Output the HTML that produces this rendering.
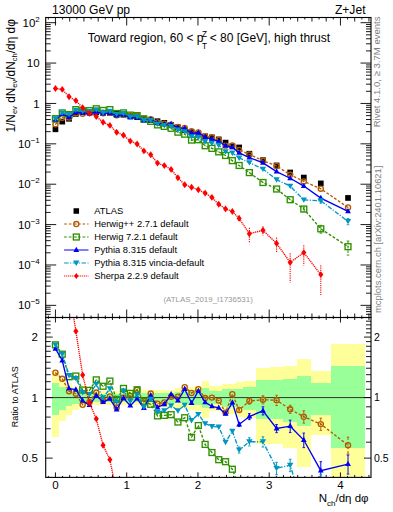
<!DOCTYPE html>
<html><head><meta charset="utf-8"><style>html,body{margin:0;padding:0;background:#fff;}svg{display:block;}</style></head>
<body>
<svg width="393" height="512" viewBox="0 0 393 512">
<rect width="393" height="512" fill="#fff"/>
<g shape-rendering="crispEdges">
<rect x="52.05" y="370.57" width="6.80" height="66.40" fill="#ffff99"/>
<rect x="58.85" y="379.46" width="6.80" height="41.07" fill="#ffff99"/>
<rect x="65.66" y="383.08" width="6.80" height="31.95" fill="#ffff99"/>
<rect x="72.46" y="387.09" width="6.80" height="22.47" fill="#ffff99"/>
<rect x="79.26" y="390.08" width="6.80" height="15.76" fill="#ffff99"/>
<rect x="86.07" y="390.88" width="6.80" height="14.00" fill="#ffff99"/>
<rect x="92.87" y="390.88" width="6.80" height="14.00" fill="#ffff99"/>
<rect x="99.68" y="390.88" width="6.80" height="14.00" fill="#ffff99"/>
<rect x="106.48" y="390.88" width="6.80" height="14.00" fill="#ffff99"/>
<rect x="113.28" y="390.88" width="6.80" height="14.00" fill="#ffff99"/>
<rect x="120.09" y="390.88" width="6.80" height="14.00" fill="#ffff99"/>
<rect x="126.89" y="390.88" width="6.80" height="14.00" fill="#ffff99"/>
<rect x="133.69" y="390.88" width="6.80" height="14.00" fill="#ffff99"/>
<rect x="140.50" y="390.08" width="6.80" height="15.76" fill="#ffff99"/>
<rect x="147.30" y="390.08" width="6.80" height="15.76" fill="#ffff99"/>
<rect x="154.11" y="390.08" width="6.80" height="15.76" fill="#ffff99"/>
<rect x="160.91" y="389.52" width="6.80" height="16.99" fill="#ffff99"/>
<rect x="167.71" y="389.52" width="6.80" height="16.99" fill="#ffff99"/>
<rect x="174.52" y="388.10" width="6.80" height="20.17" fill="#ffff99"/>
<rect x="181.32" y="388.10" width="6.80" height="20.17" fill="#ffff99"/>
<rect x="188.13" y="386.93" width="6.80" height="22.83" fill="#ffff99"/>
<rect x="194.93" y="386.16" width="6.80" height="24.60" fill="#ffff99"/>
<rect x="201.73" y="380.96" width="6.80" height="37.22" fill="#ffff99"/>
<rect x="208.54" y="386.16" width="6.80" height="24.60" fill="#ffff99"/>
<rect x="215.34" y="386.16" width="6.80" height="24.60" fill="#ffff99"/>
<rect x="222.14" y="383.89" width="6.80" height="29.97" fill="#ffff99"/>
<rect x="228.95" y="383.89" width="6.80" height="29.97" fill="#ffff99"/>
<rect x="235.75" y="381.68" width="6.80" height="35.39" fill="#ffff99"/>
<rect x="242.56" y="380.96" width="13.61" height="37.22" fill="#ffff99"/>
<rect x="256.16" y="367.61" width="13.61" height="76.05" fill="#ffff99"/>
<rect x="269.77" y="367.30" width="13.61" height="77.10" fill="#ffff99"/>
<rect x="283.38" y="365.77" width="13.61" height="82.45" fill="#ffff99"/>
<rect x="296.99" y="359.34" width="13.61" height="107.96" fill="#ffff99"/>
<rect x="310.60" y="371.40" width="20.41" height="63.80" fill="#ffff99"/>
<rect x="331.01" y="343.90" width="34.02" height="133.50" fill="#ffff99"/>
<rect x="52.05" y="383.00" width="6.80" height="32.13" fill="#99ff99"/>
<rect x="58.85" y="387.09" width="6.80" height="22.47" fill="#99ff99"/>
<rect x="65.66" y="389.92" width="6.80" height="16.11" fill="#99ff99"/>
<rect x="72.46" y="391.61" width="6.80" height="12.42" fill="#99ff99"/>
<rect x="79.26" y="392.93" width="6.80" height="9.61" fill="#99ff99"/>
<rect x="86.07" y="393.76" width="6.80" height="7.86" fill="#99ff99"/>
<rect x="92.87" y="393.76" width="6.80" height="7.86" fill="#99ff99"/>
<rect x="99.68" y="393.76" width="6.80" height="7.86" fill="#99ff99"/>
<rect x="106.48" y="393.76" width="6.80" height="7.86" fill="#99ff99"/>
<rect x="113.28" y="393.76" width="6.80" height="7.86" fill="#99ff99"/>
<rect x="120.09" y="393.76" width="6.80" height="7.86" fill="#99ff99"/>
<rect x="126.89" y="393.76" width="6.80" height="7.86" fill="#99ff99"/>
<rect x="133.69" y="393.76" width="6.80" height="7.86" fill="#99ff99"/>
<rect x="140.50" y="393.34" width="6.80" height="8.74" fill="#99ff99"/>
<rect x="147.30" y="393.34" width="6.80" height="8.74" fill="#99ff99"/>
<rect x="154.11" y="393.34" width="6.80" height="8.74" fill="#99ff99"/>
<rect x="160.91" y="392.76" width="6.80" height="9.96" fill="#99ff99"/>
<rect x="167.71" y="392.76" width="6.80" height="9.96" fill="#99ff99"/>
<rect x="174.52" y="392.10" width="6.80" height="11.36" fill="#99ff99"/>
<rect x="181.32" y="392.10" width="6.80" height="11.36" fill="#99ff99"/>
<rect x="188.13" y="390.88" width="6.80" height="14.00" fill="#99ff99"/>
<rect x="194.93" y="390.88" width="6.80" height="14.00" fill="#99ff99"/>
<rect x="201.73" y="388.10" width="6.80" height="20.17" fill="#99ff99"/>
<rect x="208.54" y="391.29" width="6.80" height="13.12" fill="#99ff99"/>
<rect x="215.34" y="391.29" width="6.80" height="13.12" fill="#99ff99"/>
<rect x="222.14" y="389.28" width="6.80" height="17.52" fill="#99ff99"/>
<rect x="228.95" y="389.28" width="6.80" height="17.52" fill="#99ff99"/>
<rect x="235.75" y="389.28" width="6.80" height="17.52" fill="#99ff99"/>
<rect x="242.56" y="386.93" width="13.61" height="22.83" fill="#99ff99"/>
<rect x="256.16" y="380.24" width="13.61" height="39.05" fill="#99ff99"/>
<rect x="269.77" y="380.24" width="13.61" height="39.05" fill="#99ff99"/>
<rect x="283.38" y="378.82" width="13.61" height="42.73" fill="#99ff99"/>
<rect x="296.99" y="376.05" width="13.61" height="50.23" fill="#99ff99"/>
<rect x="310.60" y="383.15" width="20.41" height="31.77" fill="#99ff99"/>
<rect x="331.01" y="365.77" width="34.02" height="82.45" fill="#99ff99"/>
</g>
<line x1="45.7" y1="397.6" x2="371.0" y2="397.6" stroke="#333" stroke-width="1"/>
<defs><clipPath id="ct"><rect x="45.7" y="17.5" width="325.3" height="300.0"/></clipPath><clipPath id="cr"><rect x="45.7" y="317.5" width="325.3" height="159.89999999999998"/></clipPath></defs>
<g clip-path="url(#cr)">
<polyline points="55.45,372.71 62.25,378.82 69.06,391.21 75.86,393.67 82.67,404.78 89.47,401.99 96.27,392.51 103.08,400.44 109.88,396.39 116.68,407.58 123.49,397.60 130.29,395.87 137.10,389.76 143.90,402.45 150.70,393.51 157.51,403.65 164.31,402.45 171.12,396.73 177.92,396.73 184.72,387.16 191.53,392.93 198.33,389.12 205.14,398.04 211.94,397.60 218.74,400.62 225.55,412.61 232.35,394.18 239.15,409.96 249.36,400.98 262.97,399.72 276.58,400.26 290.18,409.26 303.79,416.75 320.80,424.12 348.02,445.15" fill="none" stroke="#b45a00" stroke-width="1.35" stroke-dasharray="2.8,1.8"/>

<circle cx="55.45" cy="372.71" r="2.55" fill="none" stroke="#b45a00" stroke-width="1.35"/><circle cx="55.45" cy="372.71" r="0.5" fill="#b45a00"/>

<circle cx="62.25" cy="378.82" r="2.55" fill="none" stroke="#b45a00" stroke-width="1.35"/><circle cx="62.25" cy="378.82" r="0.5" fill="#b45a00"/>

<circle cx="69.06" cy="391.21" r="2.55" fill="none" stroke="#b45a00" stroke-width="1.35"/><circle cx="69.06" cy="391.21" r="0.5" fill="#b45a00"/>

<circle cx="75.86" cy="393.67" r="2.55" fill="none" stroke="#b45a00" stroke-width="1.35"/><circle cx="75.86" cy="393.67" r="0.5" fill="#b45a00"/>

<circle cx="82.67" cy="404.78" r="2.55" fill="none" stroke="#b45a00" stroke-width="1.35"/><circle cx="82.67" cy="404.78" r="0.5" fill="#b45a00"/>

<circle cx="89.47" cy="401.99" r="2.55" fill="none" stroke="#b45a00" stroke-width="1.35"/><circle cx="89.47" cy="401.99" r="0.5" fill="#b45a00"/>

<circle cx="96.27" cy="392.51" r="2.55" fill="none" stroke="#b45a00" stroke-width="1.35"/><circle cx="96.27" cy="392.51" r="0.5" fill="#b45a00"/>

<circle cx="103.08" cy="400.44" r="2.55" fill="none" stroke="#b45a00" stroke-width="1.35"/><circle cx="103.08" cy="400.44" r="0.5" fill="#b45a00"/>

<circle cx="109.88" cy="396.39" r="2.55" fill="none" stroke="#b45a00" stroke-width="1.35"/><circle cx="109.88" cy="396.39" r="0.5" fill="#b45a00"/>

<circle cx="116.68" cy="407.58" r="2.55" fill="none" stroke="#b45a00" stroke-width="1.35"/><circle cx="116.68" cy="407.58" r="0.5" fill="#b45a00"/>

<circle cx="123.49" cy="397.60" r="2.55" fill="none" stroke="#b45a00" stroke-width="1.35"/><circle cx="123.49" cy="397.60" r="0.5" fill="#b45a00"/>

<circle cx="130.29" cy="395.87" r="2.55" fill="none" stroke="#b45a00" stroke-width="1.35"/><circle cx="130.29" cy="395.87" r="0.5" fill="#b45a00"/>

<circle cx="137.10" cy="389.76" r="2.55" fill="none" stroke="#b45a00" stroke-width="1.35"/><circle cx="137.10" cy="389.76" r="0.5" fill="#b45a00"/>

<circle cx="143.90" cy="402.45" r="2.55" fill="none" stroke="#b45a00" stroke-width="1.35"/><circle cx="143.90" cy="402.45" r="0.5" fill="#b45a00"/>

<circle cx="150.70" cy="393.51" r="2.55" fill="none" stroke="#b45a00" stroke-width="1.35"/><circle cx="150.70" cy="393.51" r="0.5" fill="#b45a00"/>

<circle cx="157.51" cy="403.65" r="2.55" fill="none" stroke="#b45a00" stroke-width="1.35"/><circle cx="157.51" cy="403.65" r="0.5" fill="#b45a00"/>

<circle cx="164.31" cy="402.45" r="2.55" fill="none" stroke="#b45a00" stroke-width="1.35"/><circle cx="164.31" cy="402.45" r="0.5" fill="#b45a00"/>

<circle cx="171.12" cy="396.73" r="2.55" fill="none" stroke="#b45a00" stroke-width="1.35"/><circle cx="171.12" cy="396.73" r="0.5" fill="#b45a00"/>

<circle cx="177.92" cy="396.73" r="2.55" fill="none" stroke="#b45a00" stroke-width="1.35"/><circle cx="177.92" cy="396.73" r="0.5" fill="#b45a00"/>

<circle cx="184.72" cy="387.16" r="2.55" fill="none" stroke="#b45a00" stroke-width="1.35"/><circle cx="184.72" cy="387.16" r="0.5" fill="#b45a00"/>

<circle cx="191.53" cy="392.93" r="2.55" fill="none" stroke="#b45a00" stroke-width="1.35"/><circle cx="191.53" cy="392.93" r="0.5" fill="#b45a00"/>

<circle cx="198.33" cy="389.12" r="2.55" fill="none" stroke="#b45a00" stroke-width="1.35"/><circle cx="198.33" cy="389.12" r="0.5" fill="#b45a00"/>

<circle cx="205.14" cy="398.04" r="2.55" fill="none" stroke="#b45a00" stroke-width="1.35"/><circle cx="205.14" cy="398.04" r="0.5" fill="#b45a00"/>

<circle cx="211.94" cy="397.60" r="2.55" fill="none" stroke="#b45a00" stroke-width="1.35"/><circle cx="211.94" cy="397.60" r="0.5" fill="#b45a00"/>

<circle cx="218.74" cy="400.62" r="2.55" fill="none" stroke="#b45a00" stroke-width="1.35"/><circle cx="218.74" cy="400.62" r="0.5" fill="#b45a00"/>

<circle cx="225.55" cy="412.61" r="2.55" fill="none" stroke="#b45a00" stroke-width="1.35"/><circle cx="225.55" cy="412.61" r="0.5" fill="#b45a00"/>

<circle cx="232.35" cy="394.18" r="2.55" fill="none" stroke="#b45a00" stroke-width="1.35"/><circle cx="232.35" cy="394.18" r="0.5" fill="#b45a00"/>
<line x1="239.15" y1="407.96" x2="239.15" y2="412.00" stroke="#b45a00" stroke-width="1" stroke-dasharray="2.8,1.8"/><line x1="237.85" y1="407.96" x2="240.45" y2="407.96" stroke="#b45a00" stroke-width="0.9"/><line x1="237.85" y1="412.00" x2="240.45" y2="412.00" stroke="#b45a00" stroke-width="0.9"/>
<circle cx="239.15" cy="409.96" r="2.55" fill="none" stroke="#b45a00" stroke-width="1.35"/><circle cx="239.15" cy="409.96" r="0.5" fill="#b45a00"/>
<line x1="249.36" y1="397.98" x2="249.36" y2="404.09" stroke="#b45a00" stroke-width="1" stroke-dasharray="2.8,1.8"/><line x1="248.06" y1="397.98" x2="250.66" y2="397.98" stroke="#b45a00" stroke-width="0.9"/><line x1="248.06" y1="404.09" x2="250.66" y2="404.09" stroke="#b45a00" stroke-width="0.9"/>
<circle cx="249.36" cy="400.98" r="2.55" fill="none" stroke="#b45a00" stroke-width="1.35"/><circle cx="249.36" cy="400.98" r="0.5" fill="#b45a00"/>
<line x1="262.97" y1="395.72" x2="262.97" y2="403.91" stroke="#b45a00" stroke-width="1" stroke-dasharray="2.8,1.8"/><line x1="261.67" y1="395.72" x2="264.27" y2="395.72" stroke="#b45a00" stroke-width="0.9"/><line x1="261.67" y1="403.91" x2="264.27" y2="403.91" stroke="#b45a00" stroke-width="0.9"/>
<circle cx="262.97" cy="399.72" r="2.55" fill="none" stroke="#b45a00" stroke-width="1.35"/><circle cx="262.97" cy="399.72" r="0.5" fill="#b45a00"/>
<line x1="276.58" y1="395.26" x2="276.58" y2="405.56" stroke="#b45a00" stroke-width="1" stroke-dasharray="2.8,1.8"/><line x1="275.28" y1="395.26" x2="277.88" y2="395.26" stroke="#b45a00" stroke-width="0.9"/><line x1="275.28" y1="405.56" x2="277.88" y2="405.56" stroke="#b45a00" stroke-width="0.9"/>
<circle cx="276.58" cy="400.26" r="2.55" fill="none" stroke="#b45a00" stroke-width="1.35"/><circle cx="276.58" cy="400.26" r="0.5" fill="#b45a00"/>
<line x1="290.18" y1="405.26" x2="290.18" y2="413.45" stroke="#b45a00" stroke-width="1" stroke-dasharray="2.8,1.8"/><line x1="288.88" y1="405.26" x2="291.48" y2="405.26" stroke="#b45a00" stroke-width="0.9"/><line x1="288.88" y1="413.45" x2="291.48" y2="413.45" stroke="#b45a00" stroke-width="0.9"/>
<circle cx="290.18" cy="409.26" r="2.55" fill="none" stroke="#b45a00" stroke-width="1.35"/><circle cx="290.18" cy="409.26" r="0.5" fill="#b45a00"/>
<line x1="303.79" y1="410.75" x2="303.79" y2="423.20" stroke="#b45a00" stroke-width="1" stroke-dasharray="2.8,1.8"/><line x1="302.49" y1="410.75" x2="305.09" y2="410.75" stroke="#b45a00" stroke-width="0.9"/><line x1="302.49" y1="423.20" x2="305.09" y2="423.20" stroke="#b45a00" stroke-width="0.9"/>
<circle cx="303.79" cy="416.75" r="2.55" fill="none" stroke="#b45a00" stroke-width="1.35"/><circle cx="303.79" cy="416.75" r="0.5" fill="#b45a00"/>
<line x1="320.80" y1="418.12" x2="320.80" y2="430.56" stroke="#b45a00" stroke-width="1" stroke-dasharray="2.8,1.8"/><line x1="319.50" y1="418.12" x2="322.10" y2="418.12" stroke="#b45a00" stroke-width="0.9"/><line x1="319.50" y1="430.56" x2="322.10" y2="430.56" stroke="#b45a00" stroke-width="0.9"/>
<circle cx="320.80" cy="424.12" r="2.55" fill="none" stroke="#b45a00" stroke-width="1.35"/><circle cx="320.80" cy="424.12" r="0.5" fill="#b45a00"/>
<line x1="348.02" y1="437.15" x2="348.02" y2="453.96" stroke="#b45a00" stroke-width="1" stroke-dasharray="2.8,1.8"/><line x1="346.72" y1="437.15" x2="349.32" y2="437.15" stroke="#b45a00" stroke-width="0.9"/><line x1="346.72" y1="453.96" x2="349.32" y2="453.96" stroke="#b45a00" stroke-width="0.9"/>
<circle cx="348.02" cy="445.15" r="2.55" fill="none" stroke="#b45a00" stroke-width="1.35"/><circle cx="348.02" cy="445.15" r="0.5" fill="#b45a00"/>
<polyline points="55.45,344.85 62.25,354.20 69.06,376.74 75.86,376.05 82.67,390.08 89.47,390.32 96.27,379.88 103.08,386.24 109.88,381.10 116.68,399.36 123.49,388.41 130.29,393.34 137.10,389.76 143.90,401.16 150.70,404.31 157.51,415.89 164.31,415.35 171.12,414.71 177.92,422.02 184.72,417.74 191.53,437.24 198.33,425.55 205.14,444.40 211.94,452.53 218.74,459.69 225.55,461.67 232.35,469.27 239.15,487.27 249.36,491.52 262.97,508.72 276.58,514.86 290.18,533.01 303.79,554.36 320.80,623.71 348.02,640.33" fill="none" stroke="#2f9000" stroke-width="1.35" stroke-dasharray="2.8,1.8"/>

<rect x="52.50" y="341.90" width="5.90" height="5.90" fill="#fff" fill-opacity="0" stroke="#2f9000" stroke-width="1.35"/><circle cx="55.45" cy="344.85" r="0.6" fill="#2f9000"/>

<rect x="59.30" y="351.25" width="5.90" height="5.90" fill="#fff" fill-opacity="0" stroke="#2f9000" stroke-width="1.35"/><circle cx="62.25" cy="354.20" r="0.6" fill="#2f9000"/>

<rect x="66.11" y="373.79" width="5.90" height="5.90" fill="#fff" fill-opacity="0" stroke="#2f9000" stroke-width="1.35"/><circle cx="69.06" cy="376.74" r="0.6" fill="#2f9000"/>

<rect x="72.91" y="373.10" width="5.90" height="5.90" fill="#fff" fill-opacity="0" stroke="#2f9000" stroke-width="1.35"/><circle cx="75.86" cy="376.05" r="0.6" fill="#2f9000"/>

<rect x="79.72" y="387.13" width="5.90" height="5.90" fill="#fff" fill-opacity="0" stroke="#2f9000" stroke-width="1.35"/><circle cx="82.67" cy="390.08" r="0.6" fill="#2f9000"/>

<rect x="86.52" y="387.37" width="5.90" height="5.90" fill="#fff" fill-opacity="0" stroke="#2f9000" stroke-width="1.35"/><circle cx="89.47" cy="390.32" r="0.6" fill="#2f9000"/>

<rect x="93.32" y="376.93" width="5.90" height="5.90" fill="#fff" fill-opacity="0" stroke="#2f9000" stroke-width="1.35"/><circle cx="96.27" cy="379.88" r="0.6" fill="#2f9000"/>

<rect x="100.13" y="383.29" width="5.90" height="5.90" fill="#fff" fill-opacity="0" stroke="#2f9000" stroke-width="1.35"/><circle cx="103.08" cy="386.24" r="0.6" fill="#2f9000"/>

<rect x="106.93" y="378.15" width="5.90" height="5.90" fill="#fff" fill-opacity="0" stroke="#2f9000" stroke-width="1.35"/><circle cx="109.88" cy="381.10" r="0.6" fill="#2f9000"/>

<rect x="113.73" y="396.41" width="5.90" height="5.90" fill="#fff" fill-opacity="0" stroke="#2f9000" stroke-width="1.35"/><circle cx="116.68" cy="399.36" r="0.6" fill="#2f9000"/>

<rect x="120.54" y="385.46" width="5.90" height="5.90" fill="#fff" fill-opacity="0" stroke="#2f9000" stroke-width="1.35"/><circle cx="123.49" cy="388.41" r="0.6" fill="#2f9000"/>

<rect x="127.34" y="390.39" width="5.90" height="5.90" fill="#fff" fill-opacity="0" stroke="#2f9000" stroke-width="1.35"/><circle cx="130.29" cy="393.34" r="0.6" fill="#2f9000"/>

<rect x="134.15" y="386.81" width="5.90" height="5.90" fill="#fff" fill-opacity="0" stroke="#2f9000" stroke-width="1.35"/><circle cx="137.10" cy="389.76" r="0.6" fill="#2f9000"/>

<rect x="140.95" y="398.21" width="5.90" height="5.90" fill="#fff" fill-opacity="0" stroke="#2f9000" stroke-width="1.35"/><circle cx="143.90" cy="401.16" r="0.6" fill="#2f9000"/>

<rect x="147.75" y="401.36" width="5.90" height="5.90" fill="#fff" fill-opacity="0" stroke="#2f9000" stroke-width="1.35"/><circle cx="150.70" cy="404.31" r="0.6" fill="#2f9000"/>

<rect x="154.56" y="412.94" width="5.90" height="5.90" fill="#fff" fill-opacity="0" stroke="#2f9000" stroke-width="1.35"/><circle cx="157.51" cy="415.89" r="0.6" fill="#2f9000"/>

<rect x="161.36" y="412.40" width="5.90" height="5.90" fill="#fff" fill-opacity="0" stroke="#2f9000" stroke-width="1.35"/><circle cx="164.31" cy="415.35" r="0.6" fill="#2f9000"/>

<rect x="168.17" y="411.76" width="5.90" height="5.90" fill="#fff" fill-opacity="0" stroke="#2f9000" stroke-width="1.35"/><circle cx="171.12" cy="414.71" r="0.6" fill="#2f9000"/>

<rect x="174.97" y="419.07" width="5.90" height="5.90" fill="#fff" fill-opacity="0" stroke="#2f9000" stroke-width="1.35"/><circle cx="177.92" cy="422.02" r="0.6" fill="#2f9000"/>

<rect x="181.77" y="414.79" width="5.90" height="5.90" fill="#fff" fill-opacity="0" stroke="#2f9000" stroke-width="1.35"/><circle cx="184.72" cy="417.74" r="0.6" fill="#2f9000"/>

<rect x="188.58" y="434.29" width="5.90" height="5.90" fill="#fff" fill-opacity="0" stroke="#2f9000" stroke-width="1.35"/><circle cx="191.53" cy="437.24" r="0.6" fill="#2f9000"/>

<rect x="195.38" y="422.60" width="5.90" height="5.90" fill="#fff" fill-opacity="0" stroke="#2f9000" stroke-width="1.35"/><circle cx="198.33" cy="425.55" r="0.6" fill="#2f9000"/>

<rect x="202.19" y="441.45" width="5.90" height="5.90" fill="#fff" fill-opacity="0" stroke="#2f9000" stroke-width="1.35"/><circle cx="205.14" cy="444.40" r="0.6" fill="#2f9000"/>

<rect x="208.99" y="449.58" width="5.90" height="5.90" fill="#fff" fill-opacity="0" stroke="#2f9000" stroke-width="1.35"/><circle cx="211.94" cy="452.53" r="0.6" fill="#2f9000"/>

<rect x="215.79" y="456.74" width="5.90" height="5.90" fill="#fff" fill-opacity="0" stroke="#2f9000" stroke-width="1.35"/><circle cx="218.74" cy="459.69" r="0.6" fill="#2f9000"/>

<rect x="222.60" y="458.72" width="5.90" height="5.90" fill="#fff" fill-opacity="0" stroke="#2f9000" stroke-width="1.35"/><circle cx="225.55" cy="461.67" r="0.6" fill="#2f9000"/>

<rect x="229.40" y="466.32" width="5.90" height="5.90" fill="#fff" fill-opacity="0" stroke="#2f9000" stroke-width="1.35"/><circle cx="232.35" cy="469.27" r="0.6" fill="#2f9000"/>
<line x1="239.15" y1="483.01" x2="239.15" y2="491.75" stroke="#2f9000" stroke-width="1" stroke-dasharray="2.8,1.8"/><line x1="237.85" y1="483.01" x2="240.45" y2="483.01" stroke="#2f9000" stroke-width="0.9"/><line x1="237.85" y1="491.75" x2="240.45" y2="491.75" stroke="#2f9000" stroke-width="0.9"/>
<rect x="236.20" y="484.32" width="5.90" height="5.90" fill="#fff" fill-opacity="0" stroke="#2f9000" stroke-width="1.35"/><circle cx="239.15" cy="487.27" r="0.6" fill="#2f9000"/>
<line x1="249.36" y1="486.43" x2="249.36" y2="496.92" stroke="#2f9000" stroke-width="1" stroke-dasharray="2.8,1.8"/><line x1="248.06" y1="486.43" x2="250.66" y2="486.43" stroke="#2f9000" stroke-width="0.9"/><line x1="248.06" y1="496.92" x2="250.66" y2="496.92" stroke="#2f9000" stroke-width="0.9"/>
<rect x="246.41" y="488.57" width="5.90" height="5.90" fill="#fff" fill-opacity="0" stroke="#2f9000" stroke-width="1.35"/><circle cx="249.36" cy="491.52" r="0.6" fill="#2f9000"/>
<line x1="262.97" y1="502.82" x2="262.97" y2="515.06" stroke="#2f9000" stroke-width="1" stroke-dasharray="2.8,1.8"/><line x1="261.67" y1="502.82" x2="264.27" y2="502.82" stroke="#2f9000" stroke-width="0.9"/><line x1="261.67" y1="515.06" x2="264.27" y2="515.06" stroke="#2f9000" stroke-width="0.9"/>
<rect x="260.02" y="505.77" width="5.90" height="5.90" fill="#fff" fill-opacity="0" stroke="#2f9000" stroke-width="1.35"/><circle cx="262.97" cy="508.72" r="0.6" fill="#2f9000"/>
<line x1="276.58" y1="508.14" x2="276.58" y2="522.13" stroke="#2f9000" stroke-width="1" stroke-dasharray="2.8,1.8"/><line x1="275.28" y1="508.14" x2="277.88" y2="508.14" stroke="#2f9000" stroke-width="0.9"/><line x1="275.28" y1="522.13" x2="277.88" y2="522.13" stroke="#2f9000" stroke-width="0.9"/>
<rect x="273.63" y="511.91" width="5.90" height="5.90" fill="#fff" fill-opacity="0" stroke="#2f9000" stroke-width="1.35"/><circle cx="276.58" cy="514.86" r="0.6" fill="#2f9000"/>
<line x1="290.18" y1="524.69" x2="290.18" y2="542.20" stroke="#2f9000" stroke-width="1" stroke-dasharray="2.8,1.8"/><line x1="288.88" y1="524.69" x2="291.48" y2="524.69" stroke="#2f9000" stroke-width="0.9"/><line x1="288.88" y1="542.20" x2="291.48" y2="542.20" stroke="#2f9000" stroke-width="0.9"/>
<rect x="287.23" y="530.06" width="5.90" height="5.90" fill="#fff" fill-opacity="0" stroke="#2f9000" stroke-width="1.35"/><circle cx="290.18" cy="533.01" r="0.6" fill="#2f9000"/>
<line x1="303.79" y1="544.47" x2="303.79" y2="565.52" stroke="#2f9000" stroke-width="1" stroke-dasharray="2.8,1.8"/><line x1="302.49" y1="544.47" x2="305.09" y2="544.47" stroke="#2f9000" stroke-width="0.9"/><line x1="302.49" y1="565.52" x2="305.09" y2="565.52" stroke="#2f9000" stroke-width="0.9"/>
<rect x="300.84" y="551.41" width="5.90" height="5.90" fill="#fff" fill-opacity="0" stroke="#2f9000" stroke-width="1.35"/><circle cx="303.79" cy="554.36" r="0.6" fill="#2f9000"/>
<line x1="320.80" y1="606.35" x2="320.80" y2="645.40" stroke="#2f9000" stroke-width="1" stroke-dasharray="2.8,1.8"/><line x1="319.50" y1="606.35" x2="322.10" y2="606.35" stroke="#2f9000" stroke-width="0.9"/><line x1="319.50" y1="645.40" x2="322.10" y2="645.40" stroke="#2f9000" stroke-width="0.9"/>
<rect x="317.85" y="620.76" width="5.90" height="5.90" fill="#fff" fill-opacity="0" stroke="#2f9000" stroke-width="1.35"/><circle cx="320.80" cy="623.71" r="0.6" fill="#2f9000"/>
<line x1="348.02" y1="612.21" x2="348.02" y2="682.06" stroke="#2f9000" stroke-width="1" stroke-dasharray="2.8,1.8"/><line x1="346.72" y1="612.21" x2="349.32" y2="612.21" stroke="#2f9000" stroke-width="0.9"/><line x1="346.72" y1="682.06" x2="349.32" y2="682.06" stroke="#2f9000" stroke-width="0.9"/>
<rect x="345.07" y="637.38" width="5.90" height="5.90" fill="#fff" fill-opacity="0" stroke="#2f9000" stroke-width="1.35"/><circle cx="348.02" cy="640.33" r="0.6" fill="#2f9000"/>
<polyline points="55.45,348.75 62.25,360.48 69.06,388.65 75.86,389.52 82.67,400.71 89.47,405.16 96.27,395.61 103.08,401.99 109.88,398.92 116.68,409.56 123.49,398.04 130.29,405.64 137.10,398.57 143.90,408.17 150.70,395.44 157.51,407.48 164.31,404.31 171.12,394.18 177.92,400.53 184.72,389.12 191.53,403.09 198.33,390.96 205.14,402.26 211.94,406.41 218.74,407.77 225.55,413.87 232.35,402.54 239.15,424.48 249.36,416.54 262.97,410.77 276.58,428.49 290.18,426.16 303.79,440.04 320.80,470.67 348.02,464.07" fill="none" stroke="#0000f5" stroke-width="1.35"/>

<path d="M52.55,350.65 L58.35,350.65 L55.45,345.45 Z" fill="#0000f5"/>

<path d="M59.35,362.38 L65.15,362.38 L62.25,357.18 Z" fill="#0000f5"/>

<path d="M66.16,390.55 L71.96,390.55 L69.06,385.35 Z" fill="#0000f5"/>

<path d="M72.96,391.42 L78.76,391.42 L75.86,386.22 Z" fill="#0000f5"/>

<path d="M79.77,402.61 L85.57,402.61 L82.67,397.41 Z" fill="#0000f5"/>

<path d="M86.57,407.06 L92.37,407.06 L89.47,401.86 Z" fill="#0000f5"/>

<path d="M93.37,397.51 L99.17,397.51 L96.27,392.31 Z" fill="#0000f5"/>

<path d="M100.18,403.89 L105.98,403.89 L103.08,398.69 Z" fill="#0000f5"/>

<path d="M106.98,400.82 L112.78,400.82 L109.88,395.62 Z" fill="#0000f5"/>

<path d="M113.78,411.46 L119.58,411.46 L116.68,406.26 Z" fill="#0000f5"/>

<path d="M120.59,399.94 L126.39,399.94 L123.49,394.74 Z" fill="#0000f5"/>

<path d="M127.39,407.54 L133.19,407.54 L130.29,402.34 Z" fill="#0000f5"/>

<path d="M134.20,400.47 L140.00,400.47 L137.10,395.27 Z" fill="#0000f5"/>

<path d="M141.00,410.07 L146.80,410.07 L143.90,404.87 Z" fill="#0000f5"/>

<path d="M147.80,397.34 L153.60,397.34 L150.70,392.14 Z" fill="#0000f5"/>

<path d="M154.61,409.38 L160.41,409.38 L157.51,404.18 Z" fill="#0000f5"/>

<path d="M161.41,406.21 L167.21,406.21 L164.31,401.01 Z" fill="#0000f5"/>

<path d="M168.22,396.08 L174.02,396.08 L171.12,390.88 Z" fill="#0000f5"/>

<path d="M175.02,402.43 L180.82,402.43 L177.92,397.23 Z" fill="#0000f5"/>

<path d="M181.82,391.02 L187.62,391.02 L184.72,385.82 Z" fill="#0000f5"/>

<path d="M188.63,404.99 L194.43,404.99 L191.53,399.79 Z" fill="#0000f5"/>

<path d="M195.43,392.86 L201.23,392.86 L198.33,387.66 Z" fill="#0000f5"/>

<path d="M202.24,404.16 L208.04,404.16 L205.14,398.96 Z" fill="#0000f5"/>

<path d="M209.04,408.31 L214.84,408.31 L211.94,403.11 Z" fill="#0000f5"/>

<path d="M215.84,409.67 L221.64,409.67 L218.74,404.47 Z" fill="#0000f5"/>

<path d="M222.65,415.77 L228.45,415.77 L225.55,410.57 Z" fill="#0000f5"/>

<path d="M229.45,404.44 L235.25,404.44 L232.35,399.24 Z" fill="#0000f5"/>
<line x1="239.15" y1="422.48" x2="239.15" y2="426.52" stroke="#0000f5" stroke-width="1"/><line x1="237.85" y1="422.48" x2="240.45" y2="422.48" stroke="#0000f5" stroke-width="0.9"/><line x1="237.85" y1="426.52" x2="240.45" y2="426.52" stroke="#0000f5" stroke-width="0.9"/>
<path d="M236.25,426.38 L242.05,426.38 L239.15,421.18 Z" fill="#0000f5"/>
<line x1="249.36" y1="413.54" x2="249.36" y2="419.64" stroke="#0000f5" stroke-width="1"/><line x1="248.06" y1="413.54" x2="250.66" y2="413.54" stroke="#0000f5" stroke-width="0.9"/><line x1="248.06" y1="419.64" x2="250.66" y2="419.64" stroke="#0000f5" stroke-width="0.9"/>
<path d="M246.46,418.44 L252.26,418.44 L249.36,413.24 Z" fill="#0000f5"/>
<line x1="262.97" y1="406.77" x2="262.97" y2="414.96" stroke="#0000f5" stroke-width="1"/><line x1="261.67" y1="406.77" x2="264.27" y2="406.77" stroke="#0000f5" stroke-width="0.9"/><line x1="261.67" y1="414.96" x2="264.27" y2="414.96" stroke="#0000f5" stroke-width="0.9"/>
<path d="M260.07,412.67 L265.87,412.67 L262.97,407.47 Z" fill="#0000f5"/>
<line x1="276.58" y1="424.49" x2="276.58" y2="432.68" stroke="#0000f5" stroke-width="1"/><line x1="275.28" y1="424.49" x2="277.88" y2="424.49" stroke="#0000f5" stroke-width="0.9"/><line x1="275.28" y1="432.68" x2="277.88" y2="432.68" stroke="#0000f5" stroke-width="0.9"/>
<path d="M273.68,430.39 L279.48,430.39 L276.58,425.19 Z" fill="#0000f5"/>
<line x1="290.18" y1="420.16" x2="290.18" y2="432.60" stroke="#0000f5" stroke-width="1"/><line x1="288.88" y1="420.16" x2="291.48" y2="420.16" stroke="#0000f5" stroke-width="0.9"/><line x1="288.88" y1="432.60" x2="291.48" y2="432.60" stroke="#0000f5" stroke-width="0.9"/>
<path d="M287.28,428.06 L293.08,428.06 L290.18,422.86 Z" fill="#0000f5"/>
<line x1="303.79" y1="433.04" x2="303.79" y2="447.65" stroke="#0000f5" stroke-width="1"/><line x1="302.49" y1="433.04" x2="305.09" y2="433.04" stroke="#0000f5" stroke-width="0.9"/><line x1="302.49" y1="447.65" x2="305.09" y2="447.65" stroke="#0000f5" stroke-width="0.9"/>
<path d="M300.89,441.94 L306.69,441.94 L303.79,436.74 Z" fill="#0000f5"/>
<line x1="320.80" y1="461.67" x2="320.80" y2="480.70" stroke="#0000f5" stroke-width="1"/><line x1="319.50" y1="461.67" x2="322.10" y2="461.67" stroke="#0000f5" stroke-width="0.9"/><line x1="319.50" y1="480.70" x2="322.10" y2="480.70" stroke="#0000f5" stroke-width="0.9"/>
<path d="M317.90,472.57 L323.70,472.57 L320.80,467.37 Z" fill="#0000f5"/>
<line x1="348.02" y1="455.07" x2="348.02" y2="474.10" stroke="#0000f5" stroke-width="1"/><line x1="346.72" y1="455.07" x2="349.32" y2="455.07" stroke="#0000f5" stroke-width="0.9"/><line x1="346.72" y1="474.10" x2="349.32" y2="474.10" stroke="#0000f5" stroke-width="0.9"/>
<path d="M345.12,465.97 L350.92,465.97 L348.02,460.77 Z" fill="#0000f5"/>
<polyline points="55.45,344.85 62.25,354.20 69.06,375.37 75.86,378.40 82.67,392.51 89.47,394.34 96.27,384.19 103.08,397.60 109.88,388.73 116.68,402.08 123.49,390.88 130.29,401.16 137.10,394.85 143.90,406.89 150.70,399.27 157.51,411.99 164.31,410.77 171.12,405.64 177.92,410.77 184.72,405.07 191.53,420.42 198.33,414.29 205.14,423.53 211.94,426.52 218.74,426.88 225.55,442.19 232.35,431.27 239.15,449.95 249.36,441.76 262.97,441.76 276.58,468.28 290.18,465.20 303.79,508.72 320.80,484.39 348.02,514.19" fill="none" stroke="#0096c0" stroke-width="1.35" stroke-dasharray="4.5,1.5,1.1,1.6"/>

<path d="M52.25,342.45 L58.65,342.45 L55.45,347.85 Z" fill="#0096c0"/>

<path d="M59.05,351.80 L65.45,351.80 L62.25,357.20 Z" fill="#0096c0"/>

<path d="M65.86,372.97 L72.26,372.97 L69.06,378.37 Z" fill="#0096c0"/>

<path d="M72.66,376.00 L79.06,376.00 L75.86,381.40 Z" fill="#0096c0"/>

<path d="M79.47,390.11 L85.87,390.11 L82.67,395.51 Z" fill="#0096c0"/>

<path d="M86.27,391.94 L92.67,391.94 L89.47,397.34 Z" fill="#0096c0"/>

<path d="M93.07,381.79 L99.47,381.79 L96.27,387.19 Z" fill="#0096c0"/>

<path d="M99.88,395.20 L106.28,395.20 L103.08,400.60 Z" fill="#0096c0"/>

<path d="M106.68,386.33 L113.08,386.33 L109.88,391.73 Z" fill="#0096c0"/>

<path d="M113.48,399.68 L119.88,399.68 L116.68,405.08 Z" fill="#0096c0"/>

<path d="M120.29,388.48 L126.69,388.48 L123.49,393.88 Z" fill="#0096c0"/>

<path d="M127.09,398.76 L133.49,398.76 L130.29,404.16 Z" fill="#0096c0"/>

<path d="M133.90,392.45 L140.30,392.45 L137.10,397.85 Z" fill="#0096c0"/>

<path d="M140.70,404.49 L147.10,404.49 L143.90,409.89 Z" fill="#0096c0"/>

<path d="M147.50,396.87 L153.90,396.87 L150.70,402.27 Z" fill="#0096c0"/>

<path d="M154.31,409.59 L160.71,409.59 L157.51,414.99 Z" fill="#0096c0"/>

<path d="M161.11,408.37 L167.51,408.37 L164.31,413.77 Z" fill="#0096c0"/>

<path d="M167.92,403.24 L174.32,403.24 L171.12,408.64 Z" fill="#0096c0"/>

<path d="M174.72,408.37 L181.12,408.37 L177.92,413.77 Z" fill="#0096c0"/>

<path d="M181.52,402.67 L187.92,402.67 L184.72,408.07 Z" fill="#0096c0"/>

<path d="M188.33,418.02 L194.73,418.02 L191.53,423.42 Z" fill="#0096c0"/>

<path d="M195.13,411.89 L201.53,411.89 L198.33,417.29 Z" fill="#0096c0"/>

<path d="M201.94,421.13 L208.34,421.13 L205.14,426.53 Z" fill="#0096c0"/>

<path d="M208.74,424.12 L215.14,424.12 L211.94,429.52 Z" fill="#0096c0"/>

<path d="M215.54,424.48 L221.94,424.48 L218.74,429.88 Z" fill="#0096c0"/>

<path d="M222.35,439.79 L228.75,439.79 L225.55,445.19 Z" fill="#0096c0"/>

<path d="M229.15,428.87 L235.55,428.87 L232.35,434.27 Z" fill="#0096c0"/>
<line x1="239.15" y1="446.95" x2="239.15" y2="453.05" stroke="#0096c0" stroke-width="1" stroke-dasharray="4.5,1.5,1.1,1.6"/><line x1="237.85" y1="446.95" x2="240.45" y2="446.95" stroke="#0096c0" stroke-width="0.9"/><line x1="237.85" y1="453.05" x2="240.45" y2="453.05" stroke="#0096c0" stroke-width="0.9"/>
<path d="M235.95,447.55 L242.35,447.55 L239.15,452.95 Z" fill="#0096c0"/>
<line x1="249.36" y1="437.76" x2="249.36" y2="445.95" stroke="#0096c0" stroke-width="1" stroke-dasharray="4.5,1.5,1.1,1.6"/><line x1="248.06" y1="437.76" x2="250.66" y2="437.76" stroke="#0096c0" stroke-width="0.9"/><line x1="248.06" y1="445.95" x2="250.66" y2="445.95" stroke="#0096c0" stroke-width="0.9"/>
<path d="M246.16,439.36 L252.56,439.36 L249.36,444.76 Z" fill="#0096c0"/>
<line x1="262.97" y1="436.76" x2="262.97" y2="447.06" stroke="#0096c0" stroke-width="1" stroke-dasharray="4.5,1.5,1.1,1.6"/><line x1="261.67" y1="436.76" x2="264.27" y2="436.76" stroke="#0096c0" stroke-width="0.9"/><line x1="261.67" y1="447.06" x2="264.27" y2="447.06" stroke="#0096c0" stroke-width="0.9"/>
<path d="M259.77,439.36 L266.17,439.36 L262.97,444.76 Z" fill="#0096c0"/>
<line x1="276.58" y1="462.28" x2="276.58" y2="474.72" stroke="#0096c0" stroke-width="1" stroke-dasharray="4.5,1.5,1.1,1.6"/><line x1="275.28" y1="462.28" x2="277.88" y2="462.28" stroke="#0096c0" stroke-width="0.9"/><line x1="275.28" y1="474.72" x2="277.88" y2="474.72" stroke="#0096c0" stroke-width="0.9"/>
<path d="M273.38,465.88 L279.78,465.88 L276.58,471.28 Z" fill="#0096c0"/>
<line x1="290.18" y1="459.20" x2="290.18" y2="471.64" stroke="#0096c0" stroke-width="1" stroke-dasharray="4.5,1.5,1.1,1.6"/><line x1="288.88" y1="459.20" x2="291.48" y2="459.20" stroke="#0096c0" stroke-width="0.9"/><line x1="288.88" y1="471.64" x2="291.48" y2="471.64" stroke="#0096c0" stroke-width="0.9"/>
<path d="M286.98,462.80 L293.38,462.80 L290.18,468.20 Z" fill="#0096c0"/>
<line x1="303.79" y1="500.72" x2="303.79" y2="517.53" stroke="#0096c0" stroke-width="1" stroke-dasharray="4.5,1.5,1.1,1.6"/><line x1="302.49" y1="500.72" x2="305.09" y2="500.72" stroke="#0096c0" stroke-width="0.9"/><line x1="302.49" y1="517.53" x2="305.09" y2="517.53" stroke="#0096c0" stroke-width="0.9"/>
<path d="M300.59,506.32 L306.99,506.32 L303.79,511.72 Z" fill="#0096c0"/>
<line x1="320.80" y1="474.39" x2="320.80" y2="495.69" stroke="#0096c0" stroke-width="1" stroke-dasharray="4.5,1.5,1.1,1.6"/><line x1="319.50" y1="474.39" x2="322.10" y2="474.39" stroke="#0096c0" stroke-width="0.9"/><line x1="319.50" y1="495.69" x2="322.10" y2="495.69" stroke="#0096c0" stroke-width="0.9"/>
<path d="M317.60,481.99 L324.00,481.99 L320.80,487.39 Z" fill="#0096c0"/>
<line x1="348.02" y1="500.19" x2="348.02" y2="530.87" stroke="#0096c0" stroke-width="1" stroke-dasharray="4.5,1.5,1.1,1.6"/><line x1="346.72" y1="500.19" x2="349.32" y2="500.19" stroke="#0096c0" stroke-width="0.9"/><line x1="346.72" y1="530.87" x2="349.32" y2="530.87" stroke="#0096c0" stroke-width="0.9"/>
<path d="M344.82,511.79 L351.22,511.79 L348.02,517.19 Z" fill="#0096c0"/>
<polyline points="55.45,194.54 62.25,237.21 69.06,288.12 75.86,331.15 82.67,375.03 89.47,402.92 96.27,418.84 103.08,445.20 109.88,459.63 116.68,492.97 123.49,499.36 130.29,522.70 137.10,531.11 143.90,559.42 150.70,570.30 157.51,606.08 164.31,610.48 171.12,619.35 177.92,649.10 184.72,669.38 191.53,672.27 198.33,674.67 205.14,680.04 211.94,696.42 218.74,720.71 225.55,727.53 232.35,721.88 239.15,750.70 249.36,795.70 262.97,746.62 276.58,785.70 290.18,845.10 303.79,771.19 320.80,851.56" fill="none" stroke="#ff0000" stroke-width="1.35" stroke-dasharray="1.2,0.8"/>
<path d="M55.45,191.09 L58.00,194.54 L55.45,197.99 L52.90,194.54 Z" fill="#ff0000"/>
<path d="M62.25,233.76 L64.80,237.21 L62.25,240.66 L59.70,237.21 Z" fill="#ff0000"/>
<path d="M69.06,284.67 L71.61,288.12 L69.06,291.57 L66.51,288.12 Z" fill="#ff0000"/>
<path d="M75.86,327.70 L78.41,331.15 L75.86,334.60 L73.31,331.15 Z" fill="#ff0000"/>
<path d="M82.67,371.58 L85.22,375.03 L82.67,378.48 L80.12,375.03 Z" fill="#ff0000"/>
<path d="M89.47,399.47 L92.02,402.92 L89.47,406.37 L86.92,402.92 Z" fill="#ff0000"/>
<path d="M96.27,415.39 L98.82,418.84 L96.27,422.29 L93.72,418.84 Z" fill="#ff0000"/>
<path d="M103.08,441.75 L105.63,445.20 L103.08,448.65 L100.53,445.20 Z" fill="#ff0000"/>
<path d="M109.88,456.18 L112.43,459.63 L109.88,463.08 L107.33,459.63 Z" fill="#ff0000"/>
<path d="M116.68,489.52 L119.23,492.97 L116.68,496.42 L114.13,492.97 Z" fill="#ff0000"/>
<path d="M123.49,495.91 L126.04,499.36 L123.49,502.81 L120.94,499.36 Z" fill="#ff0000"/>
<path d="M130.29,519.25 L132.84,522.70 L130.29,526.15 L127.74,522.70 Z" fill="#ff0000"/>
<path d="M137.10,527.66 L139.65,531.11 L137.10,534.56 L134.55,531.11 Z" fill="#ff0000"/>
<path d="M143.90,555.97 L146.45,559.42 L143.90,562.87 L141.35,559.42 Z" fill="#ff0000"/>
<path d="M150.70,566.85 L153.25,570.30 L150.70,573.75 L148.15,570.30 Z" fill="#ff0000"/>
<path d="M157.51,602.63 L160.06,606.08 L157.51,609.53 L154.96,606.08 Z" fill="#ff0000"/>
<path d="M164.31,607.03 L166.86,610.48 L164.31,613.93 L161.76,610.48 Z" fill="#ff0000"/>
<path d="M171.12,615.90 L173.67,619.35 L171.12,622.80 L168.57,619.35 Z" fill="#ff0000"/>
<path d="M177.92,645.65 L180.47,649.10 L177.92,652.55 L175.37,649.10 Z" fill="#ff0000"/>
<path d="M184.72,665.93 L187.27,669.38 L184.72,672.83 L182.17,669.38 Z" fill="#ff0000"/>
<path d="M191.53,668.82 L194.08,672.27 L191.53,675.72 L188.98,672.27 Z" fill="#ff0000"/>
<path d="M198.33,671.22 L200.88,674.67 L198.33,678.12 L195.78,674.67 Z" fill="#ff0000"/>
<path d="M205.14,676.59 L207.69,680.04 L205.14,683.49 L202.59,680.04 Z" fill="#ff0000"/>
<path d="M211.94,692.97 L214.49,696.42 L211.94,699.87 L209.39,696.42 Z" fill="#ff0000"/>
<path d="M218.74,717.26 L221.29,720.71 L218.74,724.16 L216.19,720.71 Z" fill="#ff0000"/>
<path d="M225.55,724.08 L228.10,727.53 L225.55,730.98 L223.00,727.53 Z" fill="#ff0000"/>
<path d="M232.35,718.43 L234.90,721.88 L232.35,725.33 L229.80,721.88 Z" fill="#ff0000"/>
<path d="M239.15,747.25 L241.70,750.70 L239.15,754.15 L236.60,750.70 Z" fill="#ff0000"/>
<path d="M249.36,792.25 L251.91,795.70 L249.36,799.15 L246.81,795.70 Z" fill="#ff0000"/>
<path d="M262.97,743.17 L265.52,746.62 L262.97,750.07 L260.42,746.62 Z" fill="#ff0000"/>
<path d="M276.58,782.25 L279.13,785.70 L276.58,789.15 L274.03,785.70 Z" fill="#ff0000"/>
<path d="M290.18,841.65 L292.73,845.10 L290.18,848.55 L287.63,845.10 Z" fill="#ff0000"/>
<path d="M303.79,767.74 L306.34,771.19 L303.79,774.64 L301.24,771.19 Z" fill="#ff0000"/>
<path d="M320.80,848.11 L323.35,851.56 L320.80,855.01 L318.25,851.56 Z" fill="#ff0000"/>
</g>
<g clip-path="url(#ct)">
<rect x="52.60" y="126.44" width="5.70" height="5.70" fill="#000"/>
<rect x="59.40" y="118.77" width="5.70" height="5.70" fill="#000"/>
<rect x="66.21" y="115.94" width="5.70" height="5.70" fill="#000"/>
<rect x="73.01" y="111.10" width="5.70" height="5.70" fill="#000"/>
<rect x="79.82" y="109.48" width="5.70" height="5.70" fill="#000"/>
<rect x="86.62" y="109.28" width="5.70" height="5.70" fill="#000"/>
<rect x="93.42" y="109.48" width="5.70" height="5.70" fill="#000"/>
<rect x="100.23" y="109.89" width="5.70" height="5.70" fill="#000"/>
<rect x="107.03" y="110.09" width="5.70" height="5.70" fill="#000"/>
<rect x="113.83" y="110.29" width="5.70" height="5.70" fill="#000"/>
<rect x="120.64" y="111.91" width="5.70" height="5.70" fill="#000"/>
<rect x="127.44" y="113.12" width="5.70" height="5.70" fill="#000"/>
<rect x="134.25" y="114.33" width="5.70" height="5.70" fill="#000"/>
<rect x="141.05" y="115.54" width="5.70" height="5.70" fill="#000"/>
<rect x="147.85" y="117.16" width="5.70" height="5.70" fill="#000"/>
<rect x="154.66" y="118.37" width="5.70" height="5.70" fill="#000"/>
<rect x="161.46" y="119.98" width="5.70" height="5.70" fill="#000"/>
<rect x="168.27" y="122.00" width="5.70" height="5.70" fill="#000"/>
<rect x="175.07" y="124.42" width="5.70" height="5.70" fill="#000"/>
<rect x="181.87" y="127.25" width="5.70" height="5.70" fill="#000"/>
<rect x="188.68" y="129.27" width="5.70" height="5.70" fill="#000"/>
<rect x="195.48" y="131.29" width="5.70" height="5.70" fill="#000"/>
<rect x="202.29" y="133.51" width="5.70" height="5.70" fill="#000"/>
<rect x="209.09" y="134.52" width="5.70" height="5.70" fill="#000"/>
<rect x="215.89" y="136.54" width="5.70" height="5.70" fill="#000"/>
<rect x="222.70" y="139.77" width="5.70" height="5.70" fill="#000"/>
<rect x="229.50" y="143.40" width="5.70" height="5.70" fill="#000"/>
<rect x="236.30" y="144.61" width="5.70" height="5.70" fill="#000"/>
<rect x="246.51" y="150.87" width="5.70" height="5.70" fill="#000"/>
<rect x="260.12" y="157.33" width="5.70" height="5.70" fill="#000"/>
<rect x="273.73" y="162.58" width="5.70" height="5.70" fill="#000"/>
<rect x="287.33" y="169.65" width="5.70" height="5.70" fill="#000"/>
<rect x="300.94" y="174.70" width="5.70" height="5.70" fill="#000"/>
<rect x="317.95" y="180.55" width="5.70" height="5.70" fill="#000"/>
<rect x="345.17" y="195.09" width="5.70" height="5.70" fill="#000"/>
<polyline points="55.45,124.29 62.25,117.85 69.06,117.51 75.86,113.16 82.67,113.78 89.47,113.01 96.27,111.31 103.08,113.31 109.88,112.70 116.68,115.15 123.49,114.76 130.29,115.62 137.10,115.60 143.90,119.36 150.70,119.18 157.51,122.43 164.31,123.81 171.12,124.68 177.92,127.10 184.72,128.00 191.53,131.18 198.33,132.44 205.14,136.45 211.94,137.37 218.74,139.99 225.55,145.63 232.35,145.56 239.15,149.95 249.36,154.40 262.97,160.61 276.58,165.97 290.18,174.84 303.79,181.39 320.80,188.73 348.02,207.49" fill="none" stroke="#b45a00" stroke-width="1.35" stroke-dasharray="2.8,1.8"/>

<circle cx="55.45" cy="124.29" r="2.55" fill="none" stroke="#b45a00" stroke-width="1.35"/><circle cx="55.45" cy="124.29" r="0.5" fill="#b45a00"/>

<circle cx="62.25" cy="117.85" r="2.55" fill="none" stroke="#b45a00" stroke-width="1.35"/><circle cx="62.25" cy="117.85" r="0.5" fill="#b45a00"/>

<circle cx="69.06" cy="117.51" r="2.55" fill="none" stroke="#b45a00" stroke-width="1.35"/><circle cx="69.06" cy="117.51" r="0.5" fill="#b45a00"/>

<circle cx="75.86" cy="113.16" r="2.55" fill="none" stroke="#b45a00" stroke-width="1.35"/><circle cx="75.86" cy="113.16" r="0.5" fill="#b45a00"/>

<circle cx="82.67" cy="113.78" r="2.55" fill="none" stroke="#b45a00" stroke-width="1.35"/><circle cx="82.67" cy="113.78" r="0.5" fill="#b45a00"/>

<circle cx="89.47" cy="113.01" r="2.55" fill="none" stroke="#b45a00" stroke-width="1.35"/><circle cx="89.47" cy="113.01" r="0.5" fill="#b45a00"/>

<circle cx="96.27" cy="111.31" r="2.55" fill="none" stroke="#b45a00" stroke-width="1.35"/><circle cx="96.27" cy="111.31" r="0.5" fill="#b45a00"/>

<circle cx="103.08" cy="113.31" r="2.55" fill="none" stroke="#b45a00" stroke-width="1.35"/><circle cx="103.08" cy="113.31" r="0.5" fill="#b45a00"/>

<circle cx="109.88" cy="112.70" r="2.55" fill="none" stroke="#b45a00" stroke-width="1.35"/><circle cx="109.88" cy="112.70" r="0.5" fill="#b45a00"/>

<circle cx="116.68" cy="115.15" r="2.55" fill="none" stroke="#b45a00" stroke-width="1.35"/><circle cx="116.68" cy="115.15" r="0.5" fill="#b45a00"/>

<circle cx="123.49" cy="114.76" r="2.55" fill="none" stroke="#b45a00" stroke-width="1.35"/><circle cx="123.49" cy="114.76" r="0.5" fill="#b45a00"/>

<circle cx="130.29" cy="115.62" r="2.55" fill="none" stroke="#b45a00" stroke-width="1.35"/><circle cx="130.29" cy="115.62" r="0.5" fill="#b45a00"/>

<circle cx="137.10" cy="115.60" r="2.55" fill="none" stroke="#b45a00" stroke-width="1.35"/><circle cx="137.10" cy="115.60" r="0.5" fill="#b45a00"/>

<circle cx="143.90" cy="119.36" r="2.55" fill="none" stroke="#b45a00" stroke-width="1.35"/><circle cx="143.90" cy="119.36" r="0.5" fill="#b45a00"/>

<circle cx="150.70" cy="119.18" r="2.55" fill="none" stroke="#b45a00" stroke-width="1.35"/><circle cx="150.70" cy="119.18" r="0.5" fill="#b45a00"/>

<circle cx="157.51" cy="122.43" r="2.55" fill="none" stroke="#b45a00" stroke-width="1.35"/><circle cx="157.51" cy="122.43" r="0.5" fill="#b45a00"/>

<circle cx="164.31" cy="123.81" r="2.55" fill="none" stroke="#b45a00" stroke-width="1.35"/><circle cx="164.31" cy="123.81" r="0.5" fill="#b45a00"/>

<circle cx="171.12" cy="124.68" r="2.55" fill="none" stroke="#b45a00" stroke-width="1.35"/><circle cx="171.12" cy="124.68" r="0.5" fill="#b45a00"/>

<circle cx="177.92" cy="127.10" r="2.55" fill="none" stroke="#b45a00" stroke-width="1.35"/><circle cx="177.92" cy="127.10" r="0.5" fill="#b45a00"/>

<circle cx="184.72" cy="128.00" r="2.55" fill="none" stroke="#b45a00" stroke-width="1.35"/><circle cx="184.72" cy="128.00" r="0.5" fill="#b45a00"/>

<circle cx="191.53" cy="131.18" r="2.55" fill="none" stroke="#b45a00" stroke-width="1.35"/><circle cx="191.53" cy="131.18" r="0.5" fill="#b45a00"/>

<circle cx="198.33" cy="132.44" r="2.55" fill="none" stroke="#b45a00" stroke-width="1.35"/><circle cx="198.33" cy="132.44" r="0.5" fill="#b45a00"/>

<circle cx="205.14" cy="136.45" r="2.55" fill="none" stroke="#b45a00" stroke-width="1.35"/><circle cx="205.14" cy="136.45" r="0.5" fill="#b45a00"/>

<circle cx="211.94" cy="137.37" r="2.55" fill="none" stroke="#b45a00" stroke-width="1.35"/><circle cx="211.94" cy="137.37" r="0.5" fill="#b45a00"/>

<circle cx="218.74" cy="139.99" r="2.55" fill="none" stroke="#b45a00" stroke-width="1.35"/><circle cx="218.74" cy="139.99" r="0.5" fill="#b45a00"/>

<circle cx="225.55" cy="145.63" r="2.55" fill="none" stroke="#b45a00" stroke-width="1.35"/><circle cx="225.55" cy="145.63" r="0.5" fill="#b45a00"/>

<circle cx="232.35" cy="145.56" r="2.55" fill="none" stroke="#b45a00" stroke-width="1.35"/><circle cx="232.35" cy="145.56" r="0.5" fill="#b45a00"/>

<circle cx="239.15" cy="149.95" r="2.55" fill="none" stroke="#b45a00" stroke-width="1.35"/><circle cx="239.15" cy="149.95" r="0.5" fill="#b45a00"/>

<circle cx="249.36" cy="154.40" r="2.55" fill="none" stroke="#b45a00" stroke-width="1.35"/><circle cx="249.36" cy="154.40" r="0.5" fill="#b45a00"/>

<circle cx="262.97" cy="160.61" r="2.55" fill="none" stroke="#b45a00" stroke-width="1.35"/><circle cx="262.97" cy="160.61" r="0.5" fill="#b45a00"/>

<circle cx="276.58" cy="165.97" r="2.55" fill="none" stroke="#b45a00" stroke-width="1.35"/><circle cx="276.58" cy="165.97" r="0.5" fill="#b45a00"/>

<circle cx="290.18" cy="174.84" r="2.55" fill="none" stroke="#b45a00" stroke-width="1.35"/><circle cx="290.18" cy="174.84" r="0.5" fill="#b45a00"/>

<circle cx="303.79" cy="181.39" r="2.55" fill="none" stroke="#b45a00" stroke-width="1.35"/><circle cx="303.79" cy="181.39" r="0.5" fill="#b45a00"/>

<circle cx="320.80" cy="188.73" r="2.55" fill="none" stroke="#b45a00" stroke-width="1.35"/><circle cx="320.80" cy="188.73" r="0.5" fill="#b45a00"/>

<circle cx="348.02" cy="207.49" r="2.55" fill="none" stroke="#b45a00" stroke-width="1.35"/><circle cx="348.02" cy="207.49" r="0.5" fill="#b45a00"/>
<polyline points="55.45,118.70 62.25,112.90 69.06,114.60 75.86,109.62 82.67,110.82 89.47,110.67 96.27,108.77 103.08,110.45 109.88,109.63 116.68,113.50 123.49,112.91 130.29,115.11 137.10,115.60 143.90,119.11 150.70,121.35 157.51,124.89 164.31,126.40 171.12,128.29 177.92,132.18 184.72,134.15 191.53,140.08 198.33,139.75 205.14,145.76 211.94,148.40 218.74,151.86 225.55,155.49 232.35,160.65 239.15,165.48 249.36,172.59 262.97,182.51 276.58,188.99 290.18,199.70 303.79,209.04 320.80,228.83 348.02,246.70" fill="none" stroke="#2f9000" stroke-width="1.35" stroke-dasharray="2.8,1.8"/>

<rect x="52.50" y="115.75" width="5.90" height="5.90" fill="#fff" fill-opacity="0" stroke="#2f9000" stroke-width="1.35"/><circle cx="55.45" cy="118.70" r="0.6" fill="#2f9000"/>

<rect x="59.30" y="109.95" width="5.90" height="5.90" fill="#fff" fill-opacity="0" stroke="#2f9000" stroke-width="1.35"/><circle cx="62.25" cy="112.90" r="0.6" fill="#2f9000"/>

<rect x="66.11" y="111.65" width="5.90" height="5.90" fill="#fff" fill-opacity="0" stroke="#2f9000" stroke-width="1.35"/><circle cx="69.06" cy="114.60" r="0.6" fill="#2f9000"/>

<rect x="72.91" y="106.67" width="5.90" height="5.90" fill="#fff" fill-opacity="0" stroke="#2f9000" stroke-width="1.35"/><circle cx="75.86" cy="109.62" r="0.6" fill="#2f9000"/>

<rect x="79.72" y="107.87" width="5.90" height="5.90" fill="#fff" fill-opacity="0" stroke="#2f9000" stroke-width="1.35"/><circle cx="82.67" cy="110.82" r="0.6" fill="#2f9000"/>

<rect x="86.52" y="107.72" width="5.90" height="5.90" fill="#fff" fill-opacity="0" stroke="#2f9000" stroke-width="1.35"/><circle cx="89.47" cy="110.67" r="0.6" fill="#2f9000"/>

<rect x="93.32" y="105.82" width="5.90" height="5.90" fill="#fff" fill-opacity="0" stroke="#2f9000" stroke-width="1.35"/><circle cx="96.27" cy="108.77" r="0.6" fill="#2f9000"/>

<rect x="100.13" y="107.50" width="5.90" height="5.90" fill="#fff" fill-opacity="0" stroke="#2f9000" stroke-width="1.35"/><circle cx="103.08" cy="110.45" r="0.6" fill="#2f9000"/>

<rect x="106.93" y="106.68" width="5.90" height="5.90" fill="#fff" fill-opacity="0" stroke="#2f9000" stroke-width="1.35"/><circle cx="109.88" cy="109.63" r="0.6" fill="#2f9000"/>

<rect x="113.73" y="110.55" width="5.90" height="5.90" fill="#fff" fill-opacity="0" stroke="#2f9000" stroke-width="1.35"/><circle cx="116.68" cy="113.50" r="0.6" fill="#2f9000"/>

<rect x="120.54" y="109.96" width="5.90" height="5.90" fill="#fff" fill-opacity="0" stroke="#2f9000" stroke-width="1.35"/><circle cx="123.49" cy="112.91" r="0.6" fill="#2f9000"/>

<rect x="127.34" y="112.16" width="5.90" height="5.90" fill="#fff" fill-opacity="0" stroke="#2f9000" stroke-width="1.35"/><circle cx="130.29" cy="115.11" r="0.6" fill="#2f9000"/>

<rect x="134.15" y="112.65" width="5.90" height="5.90" fill="#fff" fill-opacity="0" stroke="#2f9000" stroke-width="1.35"/><circle cx="137.10" cy="115.60" r="0.6" fill="#2f9000"/>

<rect x="140.95" y="116.16" width="5.90" height="5.90" fill="#fff" fill-opacity="0" stroke="#2f9000" stroke-width="1.35"/><circle cx="143.90" cy="119.11" r="0.6" fill="#2f9000"/>

<rect x="147.75" y="118.40" width="5.90" height="5.90" fill="#fff" fill-opacity="0" stroke="#2f9000" stroke-width="1.35"/><circle cx="150.70" cy="121.35" r="0.6" fill="#2f9000"/>

<rect x="154.56" y="121.94" width="5.90" height="5.90" fill="#fff" fill-opacity="0" stroke="#2f9000" stroke-width="1.35"/><circle cx="157.51" cy="124.89" r="0.6" fill="#2f9000"/>

<rect x="161.36" y="123.45" width="5.90" height="5.90" fill="#fff" fill-opacity="0" stroke="#2f9000" stroke-width="1.35"/><circle cx="164.31" cy="126.40" r="0.6" fill="#2f9000"/>

<rect x="168.17" y="125.34" width="5.90" height="5.90" fill="#fff" fill-opacity="0" stroke="#2f9000" stroke-width="1.35"/><circle cx="171.12" cy="128.29" r="0.6" fill="#2f9000"/>

<rect x="174.97" y="129.23" width="5.90" height="5.90" fill="#fff" fill-opacity="0" stroke="#2f9000" stroke-width="1.35"/><circle cx="177.92" cy="132.18" r="0.6" fill="#2f9000"/>

<rect x="181.77" y="131.20" width="5.90" height="5.90" fill="#fff" fill-opacity="0" stroke="#2f9000" stroke-width="1.35"/><circle cx="184.72" cy="134.15" r="0.6" fill="#2f9000"/>

<rect x="188.58" y="137.13" width="5.90" height="5.90" fill="#fff" fill-opacity="0" stroke="#2f9000" stroke-width="1.35"/><circle cx="191.53" cy="140.08" r="0.6" fill="#2f9000"/>

<rect x="195.38" y="136.80" width="5.90" height="5.90" fill="#fff" fill-opacity="0" stroke="#2f9000" stroke-width="1.35"/><circle cx="198.33" cy="139.75" r="0.6" fill="#2f9000"/>

<rect x="202.19" y="142.81" width="5.90" height="5.90" fill="#fff" fill-opacity="0" stroke="#2f9000" stroke-width="1.35"/><circle cx="205.14" cy="145.76" r="0.6" fill="#2f9000"/>

<rect x="208.99" y="145.45" width="5.90" height="5.90" fill="#fff" fill-opacity="0" stroke="#2f9000" stroke-width="1.35"/><circle cx="211.94" cy="148.40" r="0.6" fill="#2f9000"/>

<rect x="215.79" y="148.91" width="5.90" height="5.90" fill="#fff" fill-opacity="0" stroke="#2f9000" stroke-width="1.35"/><circle cx="218.74" cy="151.86" r="0.6" fill="#2f9000"/>

<rect x="222.60" y="152.54" width="5.90" height="5.90" fill="#fff" fill-opacity="0" stroke="#2f9000" stroke-width="1.35"/><circle cx="225.55" cy="155.49" r="0.6" fill="#2f9000"/>

<rect x="229.40" y="157.70" width="5.90" height="5.90" fill="#fff" fill-opacity="0" stroke="#2f9000" stroke-width="1.35"/><circle cx="232.35" cy="160.65" r="0.6" fill="#2f9000"/>

<rect x="236.20" y="162.53" width="5.90" height="5.90" fill="#fff" fill-opacity="0" stroke="#2f9000" stroke-width="1.35"/><circle cx="239.15" cy="165.48" r="0.6" fill="#2f9000"/>

<rect x="246.41" y="169.64" width="5.90" height="5.90" fill="#fff" fill-opacity="0" stroke="#2f9000" stroke-width="1.35"/><circle cx="249.36" cy="172.59" r="0.6" fill="#2f9000"/>

<rect x="260.02" y="179.56" width="5.90" height="5.90" fill="#fff" fill-opacity="0" stroke="#2f9000" stroke-width="1.35"/><circle cx="262.97" cy="182.51" r="0.6" fill="#2f9000"/>

<rect x="273.63" y="186.04" width="5.90" height="5.90" fill="#fff" fill-opacity="0" stroke="#2f9000" stroke-width="1.35"/><circle cx="276.58" cy="188.99" r="0.6" fill="#2f9000"/>

<rect x="287.23" y="196.75" width="5.90" height="5.90" fill="#fff" fill-opacity="0" stroke="#2f9000" stroke-width="1.35"/><circle cx="290.18" cy="199.70" r="0.6" fill="#2f9000"/>
<line x1="303.79" y1="207.05" x2="303.79" y2="211.28" stroke="#2f9000" stroke-width="1" stroke-dasharray="2.8,1.8"/><line x1="302.49" y1="207.05" x2="305.09" y2="207.05" stroke="#2f9000" stroke-width="0.9"/><line x1="302.49" y1="211.28" x2="305.09" y2="211.28" stroke="#2f9000" stroke-width="0.9"/>
<rect x="300.84" y="206.09" width="5.90" height="5.90" fill="#fff" fill-opacity="0" stroke="#2f9000" stroke-width="1.35"/><circle cx="303.79" cy="209.04" r="0.6" fill="#2f9000"/>
<line x1="320.80" y1="225.34" x2="320.80" y2="233.18" stroke="#2f9000" stroke-width="1" stroke-dasharray="2.8,1.8"/><line x1="319.50" y1="225.34" x2="322.10" y2="225.34" stroke="#2f9000" stroke-width="0.9"/><line x1="319.50" y1="233.18" x2="322.10" y2="233.18" stroke="#2f9000" stroke-width="0.9"/>
<rect x="317.85" y="225.88" width="5.90" height="5.90" fill="#fff" fill-opacity="0" stroke="#2f9000" stroke-width="1.35"/><circle cx="320.80" cy="228.83" r="0.6" fill="#2f9000"/>
<line x1="348.02" y1="241.05" x2="348.02" y2="255.09" stroke="#2f9000" stroke-width="1" stroke-dasharray="2.8,1.8"/><line x1="346.72" y1="241.05" x2="349.32" y2="241.05" stroke="#2f9000" stroke-width="0.9"/><line x1="346.72" y1="255.09" x2="349.32" y2="255.09" stroke="#2f9000" stroke-width="0.9"/>
<rect x="345.07" y="243.75" width="5.90" height="5.90" fill="#fff" fill-opacity="0" stroke="#2f9000" stroke-width="1.35"/><circle cx="348.02" cy="246.70" r="0.6" fill="#2f9000"/>
<polyline points="55.45,119.48 62.25,114.16 69.06,117.00 75.86,112.33 82.67,112.96 89.47,113.65 96.27,111.93 103.08,113.62 109.88,113.20 116.68,115.54 123.49,114.84 130.29,117.58 137.10,117.37 143.90,120.51 150.70,119.57 157.51,123.20 164.31,124.18 171.12,124.16 177.92,127.86 184.72,128.40 191.53,133.22 198.33,132.81 205.14,137.30 211.94,139.14 218.74,141.43 225.55,145.89 232.35,147.24 239.15,152.86 249.36,157.53 262.97,162.83 276.58,171.64 290.18,178.24 303.79,186.07 320.80,198.08 348.02,211.29" fill="none" stroke="#0000f5" stroke-width="1.35"/>

<path d="M52.55,121.38 L58.35,121.38 L55.45,116.18 Z" fill="#0000f5"/>

<path d="M59.35,116.06 L65.15,116.06 L62.25,110.86 Z" fill="#0000f5"/>

<path d="M66.16,118.90 L71.96,118.90 L69.06,113.70 Z" fill="#0000f5"/>

<path d="M72.96,114.23 L78.76,114.23 L75.86,109.03 Z" fill="#0000f5"/>

<path d="M79.77,114.86 L85.57,114.86 L82.67,109.66 Z" fill="#0000f5"/>

<path d="M86.57,115.55 L92.37,115.55 L89.47,110.35 Z" fill="#0000f5"/>

<path d="M93.37,113.83 L99.17,113.83 L96.27,108.63 Z" fill="#0000f5"/>

<path d="M100.18,115.52 L105.98,115.52 L103.08,110.32 Z" fill="#0000f5"/>

<path d="M106.98,115.10 L112.78,115.10 L109.88,109.90 Z" fill="#0000f5"/>

<path d="M113.78,117.44 L119.58,117.44 L116.68,112.24 Z" fill="#0000f5"/>

<path d="M120.59,116.74 L126.39,116.74 L123.49,111.54 Z" fill="#0000f5"/>

<path d="M127.39,119.48 L133.19,119.48 L130.29,114.28 Z" fill="#0000f5"/>

<path d="M134.20,119.27 L140.00,119.27 L137.10,114.07 Z" fill="#0000f5"/>

<path d="M141.00,122.41 L146.80,122.41 L143.90,117.21 Z" fill="#0000f5"/>

<path d="M147.80,121.47 L153.60,121.47 L150.70,116.27 Z" fill="#0000f5"/>

<path d="M154.61,125.10 L160.41,125.10 L157.51,119.90 Z" fill="#0000f5"/>

<path d="M161.41,126.08 L167.21,126.08 L164.31,120.88 Z" fill="#0000f5"/>

<path d="M168.22,126.06 L174.02,126.06 L171.12,120.86 Z" fill="#0000f5"/>

<path d="M175.02,129.76 L180.82,129.76 L177.92,124.56 Z" fill="#0000f5"/>

<path d="M181.82,130.30 L187.62,130.30 L184.72,125.10 Z" fill="#0000f5"/>

<path d="M188.63,135.12 L194.43,135.12 L191.53,129.92 Z" fill="#0000f5"/>

<path d="M195.43,134.71 L201.23,134.71 L198.33,129.51 Z" fill="#0000f5"/>

<path d="M202.24,139.20 L208.04,139.20 L205.14,134.00 Z" fill="#0000f5"/>

<path d="M209.04,141.04 L214.84,141.04 L211.94,135.84 Z" fill="#0000f5"/>

<path d="M215.84,143.33 L221.64,143.33 L218.74,138.13 Z" fill="#0000f5"/>

<path d="M222.65,147.79 L228.45,147.79 L225.55,142.59 Z" fill="#0000f5"/>

<path d="M229.45,149.14 L235.25,149.14 L232.35,143.94 Z" fill="#0000f5"/>

<path d="M236.25,154.76 L242.05,154.76 L239.15,149.56 Z" fill="#0000f5"/>

<path d="M246.46,159.43 L252.26,159.43 L249.36,154.23 Z" fill="#0000f5"/>

<path d="M260.07,164.73 L265.87,164.73 L262.97,159.53 Z" fill="#0000f5"/>

<path d="M273.68,173.54 L279.48,173.54 L276.58,168.34 Z" fill="#0000f5"/>

<path d="M287.28,180.14 L293.08,180.14 L290.18,174.94 Z" fill="#0000f5"/>

<path d="M300.89,187.97 L306.69,187.97 L303.79,182.77 Z" fill="#0000f5"/>

<path d="M317.90,199.98 L323.70,199.98 L320.80,194.78 Z" fill="#0000f5"/>

<path d="M345.12,213.19 L350.92,213.19 L348.02,207.99 Z" fill="#0000f5"/>
<polyline points="55.45,118.70 62.25,112.90 69.06,114.33 75.86,110.09 82.67,111.31 89.47,111.48 96.27,109.64 103.08,112.74 109.88,111.16 116.68,114.04 123.49,113.41 130.29,116.68 137.10,116.63 143.90,120.26 150.70,120.34 157.51,124.11 164.31,125.48 171.12,126.47 177.92,129.92 184.72,131.60 191.53,136.70 198.33,137.49 205.14,141.57 211.94,143.18 218.74,145.27 225.55,151.58 232.35,153.02 239.15,157.98 249.36,162.59 262.97,169.05 276.58,179.63 290.18,186.08 303.79,199.87 320.80,200.84 348.02,221.36" fill="none" stroke="#0096c0" stroke-width="1.35" stroke-dasharray="4.5,1.5,1.1,1.6"/>

<path d="M52.25,116.30 L58.65,116.30 L55.45,121.70 Z" fill="#0096c0"/>

<path d="M59.05,110.50 L65.45,110.50 L62.25,115.90 Z" fill="#0096c0"/>

<path d="M65.86,111.93 L72.26,111.93 L69.06,117.33 Z" fill="#0096c0"/>

<path d="M72.66,107.69 L79.06,107.69 L75.86,113.09 Z" fill="#0096c0"/>

<path d="M79.47,108.91 L85.87,108.91 L82.67,114.31 Z" fill="#0096c0"/>

<path d="M86.27,109.08 L92.67,109.08 L89.47,114.48 Z" fill="#0096c0"/>

<path d="M93.07,107.24 L99.47,107.24 L96.27,112.64 Z" fill="#0096c0"/>

<path d="M99.88,110.34 L106.28,110.34 L103.08,115.74 Z" fill="#0096c0"/>

<path d="M106.68,108.76 L113.08,108.76 L109.88,114.16 Z" fill="#0096c0"/>

<path d="M113.48,111.64 L119.88,111.64 L116.68,117.04 Z" fill="#0096c0"/>

<path d="M120.29,111.01 L126.69,111.01 L123.49,116.41 Z" fill="#0096c0"/>

<path d="M127.09,114.28 L133.49,114.28 L130.29,119.68 Z" fill="#0096c0"/>

<path d="M133.90,114.23 L140.30,114.23 L137.10,119.63 Z" fill="#0096c0"/>

<path d="M140.70,117.86 L147.10,117.86 L143.90,123.26 Z" fill="#0096c0"/>

<path d="M147.50,117.94 L153.90,117.94 L150.70,123.34 Z" fill="#0096c0"/>

<path d="M154.31,121.71 L160.71,121.71 L157.51,127.11 Z" fill="#0096c0"/>

<path d="M161.11,123.08 L167.51,123.08 L164.31,128.48 Z" fill="#0096c0"/>

<path d="M167.92,124.07 L174.32,124.07 L171.12,129.47 Z" fill="#0096c0"/>

<path d="M174.72,127.52 L181.12,127.52 L177.92,132.92 Z" fill="#0096c0"/>

<path d="M181.52,129.20 L187.92,129.20 L184.72,134.60 Z" fill="#0096c0"/>

<path d="M188.33,134.30 L194.73,134.30 L191.53,139.70 Z" fill="#0096c0"/>

<path d="M195.13,135.09 L201.53,135.09 L198.33,140.49 Z" fill="#0096c0"/>

<path d="M201.94,139.17 L208.34,139.17 L205.14,144.57 Z" fill="#0096c0"/>

<path d="M208.74,140.78 L215.14,140.78 L211.94,146.18 Z" fill="#0096c0"/>

<path d="M215.54,142.87 L221.94,142.87 L218.74,148.27 Z" fill="#0096c0"/>

<path d="M222.35,149.18 L228.75,149.18 L225.55,154.58 Z" fill="#0096c0"/>

<path d="M229.15,150.62 L235.55,150.62 L232.35,156.02 Z" fill="#0096c0"/>

<path d="M235.95,155.58 L242.35,155.58 L239.15,160.98 Z" fill="#0096c0"/>

<path d="M246.16,160.19 L252.56,160.19 L249.36,165.59 Z" fill="#0096c0"/>

<path d="M259.77,166.65 L266.17,166.65 L262.97,172.05 Z" fill="#0096c0"/>

<path d="M273.38,177.23 L279.78,177.23 L276.58,182.63 Z" fill="#0096c0"/>

<path d="M286.98,183.68 L293.38,183.68 L290.18,189.08 Z" fill="#0096c0"/>

<path d="M300.59,197.47 L306.99,197.47 L303.79,202.87 Z" fill="#0096c0"/>
<line x1="320.80" y1="198.83" x2="320.80" y2="203.11" stroke="#0096c0" stroke-width="1" stroke-dasharray="4.5,1.5,1.1,1.6"/><line x1="319.50" y1="198.83" x2="322.10" y2="198.83" stroke="#0096c0" stroke-width="0.9"/><line x1="319.50" y1="203.11" x2="322.10" y2="203.11" stroke="#0096c0" stroke-width="0.9"/>
<path d="M317.60,198.44 L324.00,198.44 L320.80,203.84 Z" fill="#0096c0"/>
<line x1="348.02" y1="218.55" x2="348.02" y2="224.71" stroke="#0096c0" stroke-width="1" stroke-dasharray="4.5,1.5,1.1,1.6"/><line x1="346.72" y1="218.55" x2="349.32" y2="218.55" stroke="#0096c0" stroke-width="0.9"/><line x1="346.72" y1="224.71" x2="349.32" y2="224.71" stroke="#0096c0" stroke-width="0.9"/>
<path d="M344.82,218.96 L351.22,218.96 L348.02,224.36 Z" fill="#0096c0"/>
<polyline points="55.45,88.50 62.25,89.40 69.06,96.80 75.86,100.60 82.67,107.80 89.47,113.20 96.27,116.60 103.08,122.30 109.88,125.40 116.68,132.30 123.49,135.20 130.29,141.10 137.10,144.00 143.90,150.90 150.70,154.70 157.51,163.10 164.31,165.60 171.12,169.40 177.92,177.80 184.72,184.70 191.53,187.30 198.33,189.80 205.14,193.10 211.94,197.40 218.74,204.30 225.55,208.90 232.35,211.40 239.15,218.40 249.36,233.70 262.97,230.30 276.58,243.40 290.18,262.40 303.79,252.60 320.80,274.60" fill="none" stroke="#ff0000" stroke-width="1.35" stroke-dasharray="1.2,0.8"/>

<path d="M55.45,85.05 L58.00,88.50 L55.45,91.95 L52.90,88.50 Z" fill="#ff0000"/>

<path d="M62.25,85.95 L64.80,89.40 L62.25,92.85 L59.70,89.40 Z" fill="#ff0000"/>

<path d="M69.06,93.35 L71.61,96.80 L69.06,100.25 L66.51,96.80 Z" fill="#ff0000"/>

<path d="M75.86,97.15 L78.41,100.60 L75.86,104.05 L73.31,100.60 Z" fill="#ff0000"/>

<path d="M82.67,104.35 L85.22,107.80 L82.67,111.25 L80.12,107.80 Z" fill="#ff0000"/>

<path d="M89.47,109.75 L92.02,113.20 L89.47,116.65 L86.92,113.20 Z" fill="#ff0000"/>

<path d="M96.27,113.15 L98.82,116.60 L96.27,120.05 L93.72,116.60 Z" fill="#ff0000"/>

<path d="M103.08,118.85 L105.63,122.30 L103.08,125.75 L100.53,122.30 Z" fill="#ff0000"/>

<path d="M109.88,121.95 L112.43,125.40 L109.88,128.85 L107.33,125.40 Z" fill="#ff0000"/>

<path d="M116.68,128.85 L119.23,132.30 L116.68,135.75 L114.13,132.30 Z" fill="#ff0000"/>

<path d="M123.49,131.75 L126.04,135.20 L123.49,138.65 L120.94,135.20 Z" fill="#ff0000"/>

<path d="M130.29,137.65 L132.84,141.10 L130.29,144.55 L127.74,141.10 Z" fill="#ff0000"/>

<path d="M137.10,140.55 L139.65,144.00 L137.10,147.45 L134.55,144.00 Z" fill="#ff0000"/>

<path d="M143.90,147.45 L146.45,150.90 L143.90,154.35 L141.35,150.90 Z" fill="#ff0000"/>

<path d="M150.70,151.25 L153.25,154.70 L150.70,158.15 L148.15,154.70 Z" fill="#ff0000"/>

<path d="M157.51,159.65 L160.06,163.10 L157.51,166.55 L154.96,163.10 Z" fill="#ff0000"/>

<path d="M164.31,162.15 L166.86,165.60 L164.31,169.05 L161.76,165.60 Z" fill="#ff0000"/>

<path d="M171.12,165.95 L173.67,169.40 L171.12,172.85 L168.57,169.40 Z" fill="#ff0000"/>

<path d="M177.92,174.35 L180.47,177.80 L177.92,181.25 L175.37,177.80 Z" fill="#ff0000"/>

<path d="M184.72,181.25 L187.27,184.70 L184.72,188.15 L182.17,184.70 Z" fill="#ff0000"/>

<path d="M191.53,183.85 L194.08,187.30 L191.53,190.75 L188.98,187.30 Z" fill="#ff0000"/>

<path d="M198.33,186.35 L200.88,189.80 L198.33,193.25 L195.78,189.80 Z" fill="#ff0000"/>

<path d="M205.14,189.65 L207.69,193.10 L205.14,196.55 L202.59,193.10 Z" fill="#ff0000"/>

<path d="M211.94,193.95 L214.49,197.40 L211.94,200.85 L209.39,197.40 Z" fill="#ff0000"/>

<path d="M218.74,200.85 L221.29,204.30 L218.74,207.75 L216.19,204.30 Z" fill="#ff0000"/>
<line x1="225.55" y1="206.45" x2="225.55" y2="211.75" stroke="#ff0000" stroke-width="1.1" stroke-dasharray="1.2,1"/>
<path d="M225.55,205.45 L228.10,208.90 L225.55,212.35 L223.00,208.90 Z" fill="#ff0000"/>
<line x1="232.35" y1="208.95" x2="232.35" y2="214.25" stroke="#ff0000" stroke-width="1.1" stroke-dasharray="1.2,1"/>
<path d="M232.35,207.95 L234.90,211.40 L232.35,214.85 L229.80,211.40 Z" fill="#ff0000"/>
<line x1="239.15" y1="215.50" x2="239.15" y2="221.88" stroke="#ff0000" stroke-width="1.1" stroke-dasharray="1.2,1"/>
<path d="M239.15,214.95 L241.70,218.40 L239.15,221.85 L236.60,218.40 Z" fill="#ff0000"/>
<line x1="249.36" y1="227.80" x2="249.36" y2="242.66" stroke="#ff0000" stroke-width="1.1" stroke-dasharray="1.2,1"/>
<path d="M249.36,230.25 L251.91,233.70 L249.36,237.15 L246.81,233.70 Z" fill="#ff0000"/>
<line x1="262.97" y1="226.25" x2="262.97" y2="235.58" stroke="#ff0000" stroke-width="1.1" stroke-dasharray="1.2,1"/>
<path d="M262.97,226.85 L265.52,230.30 L262.97,233.75 L260.42,230.30 Z" fill="#ff0000"/>
<line x1="276.58" y1="237.50" x2="276.58" y2="252.36" stroke="#ff0000" stroke-width="1.1" stroke-dasharray="1.2,1"/>
<path d="M276.58,239.95 L279.13,243.40 L276.58,246.85 L274.03,243.40 Z" fill="#ff0000"/>
<line x1="290.18" y1="253.30" x2="290.18" y2="282.38" stroke="#ff0000" stroke-width="1.1" stroke-dasharray="1.2,1"/>
<path d="M290.18,258.95 L292.73,262.40 L290.18,265.85 L287.63,262.40 Z" fill="#ff0000"/>
<line x1="303.79" y1="245.26" x2="303.79" y2="265.47" stroke="#ff0000" stroke-width="1.1" stroke-dasharray="1.2,1"/>
<path d="M303.79,249.15 L306.34,252.60 L303.79,256.05 L301.24,252.60 Z" fill="#ff0000"/>
<line x1="320.80" y1="265.29" x2="320.80" y2="295.71" stroke="#ff0000" stroke-width="1.1" stroke-dasharray="1.2,1"/>
<path d="M320.80,271.15 L323.35,274.60 L320.80,278.05 L318.25,274.60 Z" fill="#ff0000"/>
</g>
<rect x="45.7" y="17.5" width="325.3" height="300.0" fill="none" stroke="#000" stroke-width="1.1"/>
<rect x="45.7" y="317.5" width="325.3" height="159.89999999999998" fill="none" stroke="#000" stroke-width="1.1"/>
<g><line x1="48.33" y1="17.50" x2="48.33" y2="19.50" stroke="#000" stroke-width="0.9"/><line x1="48.33" y1="317.50" x2="48.33" y2="315.50" stroke="#000" stroke-width="0.9"/><line x1="48.33" y1="317.50" x2="48.33" y2="319.00" stroke="#000" stroke-width="0.9"/><line x1="48.33" y1="477.40" x2="48.33" y2="475.90" stroke="#000" stroke-width="0.9"/><line x1="55.45" y1="17.50" x2="55.45" y2="25.50" stroke="#000" stroke-width="0.9"/><line x1="55.45" y1="317.50" x2="55.45" y2="309.50" stroke="#000" stroke-width="0.9"/><line x1="55.45" y1="317.50" x2="55.45" y2="322.50" stroke="#000" stroke-width="0.9"/><line x1="55.45" y1="477.40" x2="55.45" y2="472.40" stroke="#000" stroke-width="0.9"/><line x1="62.58" y1="17.50" x2="62.58" y2="19.50" stroke="#000" stroke-width="0.9"/><line x1="62.58" y1="317.50" x2="62.58" y2="315.50" stroke="#000" stroke-width="0.9"/><line x1="62.58" y1="317.50" x2="62.58" y2="319.00" stroke="#000" stroke-width="0.9"/><line x1="62.58" y1="477.40" x2="62.58" y2="475.90" stroke="#000" stroke-width="0.9"/><line x1="69.70" y1="17.50" x2="69.70" y2="21.50" stroke="#000" stroke-width="0.9"/><line x1="69.70" y1="317.50" x2="69.70" y2="313.50" stroke="#000" stroke-width="0.9"/><line x1="69.70" y1="317.50" x2="69.70" y2="320.00" stroke="#000" stroke-width="0.9"/><line x1="69.70" y1="477.40" x2="69.70" y2="474.90" stroke="#000" stroke-width="0.9"/><line x1="76.83" y1="17.50" x2="76.83" y2="19.50" stroke="#000" stroke-width="0.9"/><line x1="76.83" y1="317.50" x2="76.83" y2="315.50" stroke="#000" stroke-width="0.9"/><line x1="76.83" y1="317.50" x2="76.83" y2="319.00" stroke="#000" stroke-width="0.9"/><line x1="76.83" y1="477.40" x2="76.83" y2="475.90" stroke="#000" stroke-width="0.9"/><line x1="83.95" y1="17.50" x2="83.95" y2="21.50" stroke="#000" stroke-width="0.9"/><line x1="83.95" y1="317.50" x2="83.95" y2="313.50" stroke="#000" stroke-width="0.9"/><line x1="83.95" y1="317.50" x2="83.95" y2="320.00" stroke="#000" stroke-width="0.9"/><line x1="83.95" y1="477.40" x2="83.95" y2="474.90" stroke="#000" stroke-width="0.9"/><line x1="91.08" y1="17.50" x2="91.08" y2="19.50" stroke="#000" stroke-width="0.9"/><line x1="91.08" y1="317.50" x2="91.08" y2="315.50" stroke="#000" stroke-width="0.9"/><line x1="91.08" y1="317.50" x2="91.08" y2="319.00" stroke="#000" stroke-width="0.9"/><line x1="91.08" y1="477.40" x2="91.08" y2="475.90" stroke="#000" stroke-width="0.9"/><line x1="98.20" y1="17.50" x2="98.20" y2="21.50" stroke="#000" stroke-width="0.9"/><line x1="98.20" y1="317.50" x2="98.20" y2="313.50" stroke="#000" stroke-width="0.9"/><line x1="98.20" y1="317.50" x2="98.20" y2="320.00" stroke="#000" stroke-width="0.9"/><line x1="98.20" y1="477.40" x2="98.20" y2="474.90" stroke="#000" stroke-width="0.9"/><line x1="105.33" y1="17.50" x2="105.33" y2="19.50" stroke="#000" stroke-width="0.9"/><line x1="105.33" y1="317.50" x2="105.33" y2="315.50" stroke="#000" stroke-width="0.9"/><line x1="105.33" y1="317.50" x2="105.33" y2="319.00" stroke="#000" stroke-width="0.9"/><line x1="105.33" y1="477.40" x2="105.33" y2="475.90" stroke="#000" stroke-width="0.9"/><line x1="112.45" y1="17.50" x2="112.45" y2="21.50" stroke="#000" stroke-width="0.9"/><line x1="112.45" y1="317.50" x2="112.45" y2="313.50" stroke="#000" stroke-width="0.9"/><line x1="112.45" y1="317.50" x2="112.45" y2="320.00" stroke="#000" stroke-width="0.9"/><line x1="112.45" y1="477.40" x2="112.45" y2="474.90" stroke="#000" stroke-width="0.9"/><line x1="119.58" y1="17.50" x2="119.58" y2="19.50" stroke="#000" stroke-width="0.9"/><line x1="119.58" y1="317.50" x2="119.58" y2="315.50" stroke="#000" stroke-width="0.9"/><line x1="119.58" y1="317.50" x2="119.58" y2="319.00" stroke="#000" stroke-width="0.9"/><line x1="119.58" y1="477.40" x2="119.58" y2="475.90" stroke="#000" stroke-width="0.9"/><line x1="126.70" y1="17.50" x2="126.70" y2="25.50" stroke="#000" stroke-width="0.9"/><line x1="126.70" y1="317.50" x2="126.70" y2="309.50" stroke="#000" stroke-width="0.9"/><line x1="126.70" y1="317.50" x2="126.70" y2="322.50" stroke="#000" stroke-width="0.9"/><line x1="126.70" y1="477.40" x2="126.70" y2="472.40" stroke="#000" stroke-width="0.9"/><line x1="133.82" y1="17.50" x2="133.82" y2="19.50" stroke="#000" stroke-width="0.9"/><line x1="133.82" y1="317.50" x2="133.82" y2="315.50" stroke="#000" stroke-width="0.9"/><line x1="133.82" y1="317.50" x2="133.82" y2="319.00" stroke="#000" stroke-width="0.9"/><line x1="133.82" y1="477.40" x2="133.82" y2="475.90" stroke="#000" stroke-width="0.9"/><line x1="140.95" y1="17.50" x2="140.95" y2="21.50" stroke="#000" stroke-width="0.9"/><line x1="140.95" y1="317.50" x2="140.95" y2="313.50" stroke="#000" stroke-width="0.9"/><line x1="140.95" y1="317.50" x2="140.95" y2="320.00" stroke="#000" stroke-width="0.9"/><line x1="140.95" y1="477.40" x2="140.95" y2="474.90" stroke="#000" stroke-width="0.9"/><line x1="148.07" y1="17.50" x2="148.07" y2="19.50" stroke="#000" stroke-width="0.9"/><line x1="148.07" y1="317.50" x2="148.07" y2="315.50" stroke="#000" stroke-width="0.9"/><line x1="148.07" y1="317.50" x2="148.07" y2="319.00" stroke="#000" stroke-width="0.9"/><line x1="148.07" y1="477.40" x2="148.07" y2="475.90" stroke="#000" stroke-width="0.9"/><line x1="155.20" y1="17.50" x2="155.20" y2="21.50" stroke="#000" stroke-width="0.9"/><line x1="155.20" y1="317.50" x2="155.20" y2="313.50" stroke="#000" stroke-width="0.9"/><line x1="155.20" y1="317.50" x2="155.20" y2="320.00" stroke="#000" stroke-width="0.9"/><line x1="155.20" y1="477.40" x2="155.20" y2="474.90" stroke="#000" stroke-width="0.9"/><line x1="162.32" y1="17.50" x2="162.32" y2="19.50" stroke="#000" stroke-width="0.9"/><line x1="162.32" y1="317.50" x2="162.32" y2="315.50" stroke="#000" stroke-width="0.9"/><line x1="162.32" y1="317.50" x2="162.32" y2="319.00" stroke="#000" stroke-width="0.9"/><line x1="162.32" y1="477.40" x2="162.32" y2="475.90" stroke="#000" stroke-width="0.9"/><line x1="169.45" y1="17.50" x2="169.45" y2="21.50" stroke="#000" stroke-width="0.9"/><line x1="169.45" y1="317.50" x2="169.45" y2="313.50" stroke="#000" stroke-width="0.9"/><line x1="169.45" y1="317.50" x2="169.45" y2="320.00" stroke="#000" stroke-width="0.9"/><line x1="169.45" y1="477.40" x2="169.45" y2="474.90" stroke="#000" stroke-width="0.9"/><line x1="176.57" y1="17.50" x2="176.57" y2="19.50" stroke="#000" stroke-width="0.9"/><line x1="176.57" y1="317.50" x2="176.57" y2="315.50" stroke="#000" stroke-width="0.9"/><line x1="176.57" y1="317.50" x2="176.57" y2="319.00" stroke="#000" stroke-width="0.9"/><line x1="176.57" y1="477.40" x2="176.57" y2="475.90" stroke="#000" stroke-width="0.9"/><line x1="183.70" y1="17.50" x2="183.70" y2="21.50" stroke="#000" stroke-width="0.9"/><line x1="183.70" y1="317.50" x2="183.70" y2="313.50" stroke="#000" stroke-width="0.9"/><line x1="183.70" y1="317.50" x2="183.70" y2="320.00" stroke="#000" stroke-width="0.9"/><line x1="183.70" y1="477.40" x2="183.70" y2="474.90" stroke="#000" stroke-width="0.9"/><line x1="190.82" y1="17.50" x2="190.82" y2="19.50" stroke="#000" stroke-width="0.9"/><line x1="190.82" y1="317.50" x2="190.82" y2="315.50" stroke="#000" stroke-width="0.9"/><line x1="190.82" y1="317.50" x2="190.82" y2="319.00" stroke="#000" stroke-width="0.9"/><line x1="190.82" y1="477.40" x2="190.82" y2="475.90" stroke="#000" stroke-width="0.9"/><line x1="197.95" y1="17.50" x2="197.95" y2="25.50" stroke="#000" stroke-width="0.9"/><line x1="197.95" y1="317.50" x2="197.95" y2="309.50" stroke="#000" stroke-width="0.9"/><line x1="197.95" y1="317.50" x2="197.95" y2="322.50" stroke="#000" stroke-width="0.9"/><line x1="197.95" y1="477.40" x2="197.95" y2="472.40" stroke="#000" stroke-width="0.9"/><line x1="205.07" y1="17.50" x2="205.07" y2="19.50" stroke="#000" stroke-width="0.9"/><line x1="205.07" y1="317.50" x2="205.07" y2="315.50" stroke="#000" stroke-width="0.9"/><line x1="205.07" y1="317.50" x2="205.07" y2="319.00" stroke="#000" stroke-width="0.9"/><line x1="205.07" y1="477.40" x2="205.07" y2="475.90" stroke="#000" stroke-width="0.9"/><line x1="212.20" y1="17.50" x2="212.20" y2="21.50" stroke="#000" stroke-width="0.9"/><line x1="212.20" y1="317.50" x2="212.20" y2="313.50" stroke="#000" stroke-width="0.9"/><line x1="212.20" y1="317.50" x2="212.20" y2="320.00" stroke="#000" stroke-width="0.9"/><line x1="212.20" y1="477.40" x2="212.20" y2="474.90" stroke="#000" stroke-width="0.9"/><line x1="219.32" y1="17.50" x2="219.32" y2="19.50" stroke="#000" stroke-width="0.9"/><line x1="219.32" y1="317.50" x2="219.32" y2="315.50" stroke="#000" stroke-width="0.9"/><line x1="219.32" y1="317.50" x2="219.32" y2="319.00" stroke="#000" stroke-width="0.9"/><line x1="219.32" y1="477.40" x2="219.32" y2="475.90" stroke="#000" stroke-width="0.9"/><line x1="226.45" y1="17.50" x2="226.45" y2="21.50" stroke="#000" stroke-width="0.9"/><line x1="226.45" y1="317.50" x2="226.45" y2="313.50" stroke="#000" stroke-width="0.9"/><line x1="226.45" y1="317.50" x2="226.45" y2="320.00" stroke="#000" stroke-width="0.9"/><line x1="226.45" y1="477.40" x2="226.45" y2="474.90" stroke="#000" stroke-width="0.9"/><line x1="233.57" y1="17.50" x2="233.57" y2="19.50" stroke="#000" stroke-width="0.9"/><line x1="233.57" y1="317.50" x2="233.57" y2="315.50" stroke="#000" stroke-width="0.9"/><line x1="233.57" y1="317.50" x2="233.57" y2="319.00" stroke="#000" stroke-width="0.9"/><line x1="233.57" y1="477.40" x2="233.57" y2="475.90" stroke="#000" stroke-width="0.9"/><line x1="240.70" y1="17.50" x2="240.70" y2="21.50" stroke="#000" stroke-width="0.9"/><line x1="240.70" y1="317.50" x2="240.70" y2="313.50" stroke="#000" stroke-width="0.9"/><line x1="240.70" y1="317.50" x2="240.70" y2="320.00" stroke="#000" stroke-width="0.9"/><line x1="240.70" y1="477.40" x2="240.70" y2="474.90" stroke="#000" stroke-width="0.9"/><line x1="247.82" y1="17.50" x2="247.82" y2="19.50" stroke="#000" stroke-width="0.9"/><line x1="247.82" y1="317.50" x2="247.82" y2="315.50" stroke="#000" stroke-width="0.9"/><line x1="247.82" y1="317.50" x2="247.82" y2="319.00" stroke="#000" stroke-width="0.9"/><line x1="247.82" y1="477.40" x2="247.82" y2="475.90" stroke="#000" stroke-width="0.9"/><line x1="254.95" y1="17.50" x2="254.95" y2="21.50" stroke="#000" stroke-width="0.9"/><line x1="254.95" y1="317.50" x2="254.95" y2="313.50" stroke="#000" stroke-width="0.9"/><line x1="254.95" y1="317.50" x2="254.95" y2="320.00" stroke="#000" stroke-width="0.9"/><line x1="254.95" y1="477.40" x2="254.95" y2="474.90" stroke="#000" stroke-width="0.9"/><line x1="262.07" y1="17.50" x2="262.07" y2="19.50" stroke="#000" stroke-width="0.9"/><line x1="262.07" y1="317.50" x2="262.07" y2="315.50" stroke="#000" stroke-width="0.9"/><line x1="262.07" y1="317.50" x2="262.07" y2="319.00" stroke="#000" stroke-width="0.9"/><line x1="262.07" y1="477.40" x2="262.07" y2="475.90" stroke="#000" stroke-width="0.9"/><line x1="269.20" y1="17.50" x2="269.20" y2="25.50" stroke="#000" stroke-width="0.9"/><line x1="269.20" y1="317.50" x2="269.20" y2="309.50" stroke="#000" stroke-width="0.9"/><line x1="269.20" y1="317.50" x2="269.20" y2="322.50" stroke="#000" stroke-width="0.9"/><line x1="269.20" y1="477.40" x2="269.20" y2="472.40" stroke="#000" stroke-width="0.9"/><line x1="276.32" y1="17.50" x2="276.32" y2="19.50" stroke="#000" stroke-width="0.9"/><line x1="276.32" y1="317.50" x2="276.32" y2="315.50" stroke="#000" stroke-width="0.9"/><line x1="276.32" y1="317.50" x2="276.32" y2="319.00" stroke="#000" stroke-width="0.9"/><line x1="276.32" y1="477.40" x2="276.32" y2="475.90" stroke="#000" stroke-width="0.9"/><line x1="283.45" y1="17.50" x2="283.45" y2="21.50" stroke="#000" stroke-width="0.9"/><line x1="283.45" y1="317.50" x2="283.45" y2="313.50" stroke="#000" stroke-width="0.9"/><line x1="283.45" y1="317.50" x2="283.45" y2="320.00" stroke="#000" stroke-width="0.9"/><line x1="283.45" y1="477.40" x2="283.45" y2="474.90" stroke="#000" stroke-width="0.9"/><line x1="290.57" y1="17.50" x2="290.57" y2="19.50" stroke="#000" stroke-width="0.9"/><line x1="290.57" y1="317.50" x2="290.57" y2="315.50" stroke="#000" stroke-width="0.9"/><line x1="290.57" y1="317.50" x2="290.57" y2="319.00" stroke="#000" stroke-width="0.9"/><line x1="290.57" y1="477.40" x2="290.57" y2="475.90" stroke="#000" stroke-width="0.9"/><line x1="297.70" y1="17.50" x2="297.70" y2="21.50" stroke="#000" stroke-width="0.9"/><line x1="297.70" y1="317.50" x2="297.70" y2="313.50" stroke="#000" stroke-width="0.9"/><line x1="297.70" y1="317.50" x2="297.70" y2="320.00" stroke="#000" stroke-width="0.9"/><line x1="297.70" y1="477.40" x2="297.70" y2="474.90" stroke="#000" stroke-width="0.9"/><line x1="304.82" y1="17.50" x2="304.82" y2="19.50" stroke="#000" stroke-width="0.9"/><line x1="304.82" y1="317.50" x2="304.82" y2="315.50" stroke="#000" stroke-width="0.9"/><line x1="304.82" y1="317.50" x2="304.82" y2="319.00" stroke="#000" stroke-width="0.9"/><line x1="304.82" y1="477.40" x2="304.82" y2="475.90" stroke="#000" stroke-width="0.9"/><line x1="311.95" y1="17.50" x2="311.95" y2="21.50" stroke="#000" stroke-width="0.9"/><line x1="311.95" y1="317.50" x2="311.95" y2="313.50" stroke="#000" stroke-width="0.9"/><line x1="311.95" y1="317.50" x2="311.95" y2="320.00" stroke="#000" stroke-width="0.9"/><line x1="311.95" y1="477.40" x2="311.95" y2="474.90" stroke="#000" stroke-width="0.9"/><line x1="319.07" y1="17.50" x2="319.07" y2="19.50" stroke="#000" stroke-width="0.9"/><line x1="319.07" y1="317.50" x2="319.07" y2="315.50" stroke="#000" stroke-width="0.9"/><line x1="319.07" y1="317.50" x2="319.07" y2="319.00" stroke="#000" stroke-width="0.9"/><line x1="319.07" y1="477.40" x2="319.07" y2="475.90" stroke="#000" stroke-width="0.9"/><line x1="326.20" y1="17.50" x2="326.20" y2="21.50" stroke="#000" stroke-width="0.9"/><line x1="326.20" y1="317.50" x2="326.20" y2="313.50" stroke="#000" stroke-width="0.9"/><line x1="326.20" y1="317.50" x2="326.20" y2="320.00" stroke="#000" stroke-width="0.9"/><line x1="326.20" y1="477.40" x2="326.20" y2="474.90" stroke="#000" stroke-width="0.9"/><line x1="333.32" y1="17.50" x2="333.32" y2="19.50" stroke="#000" stroke-width="0.9"/><line x1="333.32" y1="317.50" x2="333.32" y2="315.50" stroke="#000" stroke-width="0.9"/><line x1="333.32" y1="317.50" x2="333.32" y2="319.00" stroke="#000" stroke-width="0.9"/><line x1="333.32" y1="477.40" x2="333.32" y2="475.90" stroke="#000" stroke-width="0.9"/><line x1="340.45" y1="17.50" x2="340.45" y2="25.50" stroke="#000" stroke-width="0.9"/><line x1="340.45" y1="317.50" x2="340.45" y2="309.50" stroke="#000" stroke-width="0.9"/><line x1="340.45" y1="317.50" x2="340.45" y2="322.50" stroke="#000" stroke-width="0.9"/><line x1="340.45" y1="477.40" x2="340.45" y2="472.40" stroke="#000" stroke-width="0.9"/><line x1="347.57" y1="17.50" x2="347.57" y2="19.50" stroke="#000" stroke-width="0.9"/><line x1="347.57" y1="317.50" x2="347.57" y2="315.50" stroke="#000" stroke-width="0.9"/><line x1="347.57" y1="317.50" x2="347.57" y2="319.00" stroke="#000" stroke-width="0.9"/><line x1="347.57" y1="477.40" x2="347.57" y2="475.90" stroke="#000" stroke-width="0.9"/><line x1="354.70" y1="17.50" x2="354.70" y2="21.50" stroke="#000" stroke-width="0.9"/><line x1="354.70" y1="317.50" x2="354.70" y2="313.50" stroke="#000" stroke-width="0.9"/><line x1="354.70" y1="317.50" x2="354.70" y2="320.00" stroke="#000" stroke-width="0.9"/><line x1="354.70" y1="477.40" x2="354.70" y2="474.90" stroke="#000" stroke-width="0.9"/><line x1="361.82" y1="17.50" x2="361.82" y2="19.50" stroke="#000" stroke-width="0.9"/><line x1="361.82" y1="317.50" x2="361.82" y2="315.50" stroke="#000" stroke-width="0.9"/><line x1="361.82" y1="317.50" x2="361.82" y2="319.00" stroke="#000" stroke-width="0.9"/><line x1="361.82" y1="477.40" x2="361.82" y2="475.90" stroke="#000" stroke-width="0.9"/><line x1="368.95" y1="17.50" x2="368.95" y2="21.50" stroke="#000" stroke-width="0.9"/><line x1="368.95" y1="317.50" x2="368.95" y2="313.50" stroke="#000" stroke-width="0.9"/><line x1="368.95" y1="317.50" x2="368.95" y2="320.00" stroke="#000" stroke-width="0.9"/><line x1="368.95" y1="477.40" x2="368.95" y2="474.90" stroke="#000" stroke-width="0.9"/><line x1="45.70" y1="314.31" x2="50.70" y2="314.31" stroke="#000" stroke-width="0.9"/><line x1="371.00" y1="314.31" x2="366.00" y2="314.31" stroke="#000" stroke-width="0.9"/><line x1="45.70" y1="311.60" x2="50.70" y2="311.60" stroke="#000" stroke-width="0.9"/><line x1="371.00" y1="311.60" x2="366.00" y2="311.60" stroke="#000" stroke-width="0.9"/><line x1="45.70" y1="309.26" x2="50.70" y2="309.26" stroke="#000" stroke-width="0.9"/><line x1="371.00" y1="309.26" x2="366.00" y2="309.26" stroke="#000" stroke-width="0.9"/><line x1="45.70" y1="307.20" x2="50.70" y2="307.20" stroke="#000" stroke-width="0.9"/><line x1="371.00" y1="307.20" x2="366.00" y2="307.20" stroke="#000" stroke-width="0.9"/><line x1="45.70" y1="305.35" x2="56.20" y2="305.35" stroke="#000" stroke-width="0.9"/><line x1="371.00" y1="305.35" x2="360.50" y2="305.35" stroke="#000" stroke-width="0.9"/><line x1="45.70" y1="293.19" x2="50.70" y2="293.19" stroke="#000" stroke-width="0.9"/><line x1="371.00" y1="293.19" x2="366.00" y2="293.19" stroke="#000" stroke-width="0.9"/><line x1="45.70" y1="286.08" x2="50.70" y2="286.08" stroke="#000" stroke-width="0.9"/><line x1="371.00" y1="286.08" x2="366.00" y2="286.08" stroke="#000" stroke-width="0.9"/><line x1="45.70" y1="281.04" x2="50.70" y2="281.04" stroke="#000" stroke-width="0.9"/><line x1="371.00" y1="281.04" x2="366.00" y2="281.04" stroke="#000" stroke-width="0.9"/><line x1="45.70" y1="277.13" x2="50.70" y2="277.13" stroke="#000" stroke-width="0.9"/><line x1="371.00" y1="277.13" x2="366.00" y2="277.13" stroke="#000" stroke-width="0.9"/><line x1="45.70" y1="273.93" x2="50.70" y2="273.93" stroke="#000" stroke-width="0.9"/><line x1="371.00" y1="273.93" x2="366.00" y2="273.93" stroke="#000" stroke-width="0.9"/><line x1="45.70" y1="271.22" x2="50.70" y2="271.22" stroke="#000" stroke-width="0.9"/><line x1="371.00" y1="271.22" x2="366.00" y2="271.22" stroke="#000" stroke-width="0.9"/><line x1="45.70" y1="268.88" x2="50.70" y2="268.88" stroke="#000" stroke-width="0.9"/><line x1="371.00" y1="268.88" x2="366.00" y2="268.88" stroke="#000" stroke-width="0.9"/><line x1="45.70" y1="266.82" x2="50.70" y2="266.82" stroke="#000" stroke-width="0.9"/><line x1="371.00" y1="266.82" x2="366.00" y2="266.82" stroke="#000" stroke-width="0.9"/><line x1="45.70" y1="264.97" x2="56.20" y2="264.97" stroke="#000" stroke-width="0.9"/><line x1="371.00" y1="264.97" x2="360.50" y2="264.97" stroke="#000" stroke-width="0.9"/><line x1="45.70" y1="252.81" x2="50.70" y2="252.81" stroke="#000" stroke-width="0.9"/><line x1="371.00" y1="252.81" x2="366.00" y2="252.81" stroke="#000" stroke-width="0.9"/><line x1="45.70" y1="245.70" x2="50.70" y2="245.70" stroke="#000" stroke-width="0.9"/><line x1="371.00" y1="245.70" x2="366.00" y2="245.70" stroke="#000" stroke-width="0.9"/><line x1="45.70" y1="240.66" x2="50.70" y2="240.66" stroke="#000" stroke-width="0.9"/><line x1="371.00" y1="240.66" x2="366.00" y2="240.66" stroke="#000" stroke-width="0.9"/><line x1="45.70" y1="236.75" x2="50.70" y2="236.75" stroke="#000" stroke-width="0.9"/><line x1="371.00" y1="236.75" x2="366.00" y2="236.75" stroke="#000" stroke-width="0.9"/><line x1="45.70" y1="233.55" x2="50.70" y2="233.55" stroke="#000" stroke-width="0.9"/><line x1="371.00" y1="233.55" x2="366.00" y2="233.55" stroke="#000" stroke-width="0.9"/><line x1="45.70" y1="230.84" x2="50.70" y2="230.84" stroke="#000" stroke-width="0.9"/><line x1="371.00" y1="230.84" x2="366.00" y2="230.84" stroke="#000" stroke-width="0.9"/><line x1="45.70" y1="228.50" x2="50.70" y2="228.50" stroke="#000" stroke-width="0.9"/><line x1="371.00" y1="228.50" x2="366.00" y2="228.50" stroke="#000" stroke-width="0.9"/><line x1="45.70" y1="226.44" x2="50.70" y2="226.44" stroke="#000" stroke-width="0.9"/><line x1="371.00" y1="226.44" x2="366.00" y2="226.44" stroke="#000" stroke-width="0.9"/><line x1="45.70" y1="224.59" x2="56.20" y2="224.59" stroke="#000" stroke-width="0.9"/><line x1="371.00" y1="224.59" x2="360.50" y2="224.59" stroke="#000" stroke-width="0.9"/><line x1="45.70" y1="212.43" x2="50.70" y2="212.43" stroke="#000" stroke-width="0.9"/><line x1="371.00" y1="212.43" x2="366.00" y2="212.43" stroke="#000" stroke-width="0.9"/><line x1="45.70" y1="205.32" x2="50.70" y2="205.32" stroke="#000" stroke-width="0.9"/><line x1="371.00" y1="205.32" x2="366.00" y2="205.32" stroke="#000" stroke-width="0.9"/><line x1="45.70" y1="200.28" x2="50.70" y2="200.28" stroke="#000" stroke-width="0.9"/><line x1="371.00" y1="200.28" x2="366.00" y2="200.28" stroke="#000" stroke-width="0.9"/><line x1="45.70" y1="196.37" x2="50.70" y2="196.37" stroke="#000" stroke-width="0.9"/><line x1="371.00" y1="196.37" x2="366.00" y2="196.37" stroke="#000" stroke-width="0.9"/><line x1="45.70" y1="193.17" x2="50.70" y2="193.17" stroke="#000" stroke-width="0.9"/><line x1="371.00" y1="193.17" x2="366.00" y2="193.17" stroke="#000" stroke-width="0.9"/><line x1="45.70" y1="190.46" x2="50.70" y2="190.46" stroke="#000" stroke-width="0.9"/><line x1="371.00" y1="190.46" x2="366.00" y2="190.46" stroke="#000" stroke-width="0.9"/><line x1="45.70" y1="188.12" x2="50.70" y2="188.12" stroke="#000" stroke-width="0.9"/><line x1="371.00" y1="188.12" x2="366.00" y2="188.12" stroke="#000" stroke-width="0.9"/><line x1="45.70" y1="186.06" x2="50.70" y2="186.06" stroke="#000" stroke-width="0.9"/><line x1="371.00" y1="186.06" x2="366.00" y2="186.06" stroke="#000" stroke-width="0.9"/><line x1="45.70" y1="184.21" x2="56.20" y2="184.21" stroke="#000" stroke-width="0.9"/><line x1="371.00" y1="184.21" x2="360.50" y2="184.21" stroke="#000" stroke-width="0.9"/><line x1="45.70" y1="172.05" x2="50.70" y2="172.05" stroke="#000" stroke-width="0.9"/><line x1="371.00" y1="172.05" x2="366.00" y2="172.05" stroke="#000" stroke-width="0.9"/><line x1="45.70" y1="164.94" x2="50.70" y2="164.94" stroke="#000" stroke-width="0.9"/><line x1="371.00" y1="164.94" x2="366.00" y2="164.94" stroke="#000" stroke-width="0.9"/><line x1="45.70" y1="159.90" x2="50.70" y2="159.90" stroke="#000" stroke-width="0.9"/><line x1="371.00" y1="159.90" x2="366.00" y2="159.90" stroke="#000" stroke-width="0.9"/><line x1="45.70" y1="155.99" x2="50.70" y2="155.99" stroke="#000" stroke-width="0.9"/><line x1="371.00" y1="155.99" x2="366.00" y2="155.99" stroke="#000" stroke-width="0.9"/><line x1="45.70" y1="152.79" x2="50.70" y2="152.79" stroke="#000" stroke-width="0.9"/><line x1="371.00" y1="152.79" x2="366.00" y2="152.79" stroke="#000" stroke-width="0.9"/><line x1="45.70" y1="150.08" x2="50.70" y2="150.08" stroke="#000" stroke-width="0.9"/><line x1="371.00" y1="150.08" x2="366.00" y2="150.08" stroke="#000" stroke-width="0.9"/><line x1="45.70" y1="147.74" x2="50.70" y2="147.74" stroke="#000" stroke-width="0.9"/><line x1="371.00" y1="147.74" x2="366.00" y2="147.74" stroke="#000" stroke-width="0.9"/><line x1="45.70" y1="145.68" x2="50.70" y2="145.68" stroke="#000" stroke-width="0.9"/><line x1="371.00" y1="145.68" x2="366.00" y2="145.68" stroke="#000" stroke-width="0.9"/><line x1="45.70" y1="143.83" x2="56.20" y2="143.83" stroke="#000" stroke-width="0.9"/><line x1="371.00" y1="143.83" x2="360.50" y2="143.83" stroke="#000" stroke-width="0.9"/><line x1="45.70" y1="131.67" x2="50.70" y2="131.67" stroke="#000" stroke-width="0.9"/><line x1="371.00" y1="131.67" x2="366.00" y2="131.67" stroke="#000" stroke-width="0.9"/><line x1="45.70" y1="124.56" x2="50.70" y2="124.56" stroke="#000" stroke-width="0.9"/><line x1="371.00" y1="124.56" x2="366.00" y2="124.56" stroke="#000" stroke-width="0.9"/><line x1="45.70" y1="119.52" x2="50.70" y2="119.52" stroke="#000" stroke-width="0.9"/><line x1="371.00" y1="119.52" x2="366.00" y2="119.52" stroke="#000" stroke-width="0.9"/><line x1="45.70" y1="115.61" x2="50.70" y2="115.61" stroke="#000" stroke-width="0.9"/><line x1="371.00" y1="115.61" x2="366.00" y2="115.61" stroke="#000" stroke-width="0.9"/><line x1="45.70" y1="112.41" x2="50.70" y2="112.41" stroke="#000" stroke-width="0.9"/><line x1="371.00" y1="112.41" x2="366.00" y2="112.41" stroke="#000" stroke-width="0.9"/><line x1="45.70" y1="109.70" x2="50.70" y2="109.70" stroke="#000" stroke-width="0.9"/><line x1="371.00" y1="109.70" x2="366.00" y2="109.70" stroke="#000" stroke-width="0.9"/><line x1="45.70" y1="107.36" x2="50.70" y2="107.36" stroke="#000" stroke-width="0.9"/><line x1="371.00" y1="107.36" x2="366.00" y2="107.36" stroke="#000" stroke-width="0.9"/><line x1="45.70" y1="105.30" x2="50.70" y2="105.30" stroke="#000" stroke-width="0.9"/><line x1="371.00" y1="105.30" x2="366.00" y2="105.30" stroke="#000" stroke-width="0.9"/><line x1="45.70" y1="103.45" x2="56.20" y2="103.45" stroke="#000" stroke-width="0.9"/><line x1="371.00" y1="103.45" x2="360.50" y2="103.45" stroke="#000" stroke-width="0.9"/><line x1="45.70" y1="91.29" x2="50.70" y2="91.29" stroke="#000" stroke-width="0.9"/><line x1="371.00" y1="91.29" x2="366.00" y2="91.29" stroke="#000" stroke-width="0.9"/><line x1="45.70" y1="84.18" x2="50.70" y2="84.18" stroke="#000" stroke-width="0.9"/><line x1="371.00" y1="84.18" x2="366.00" y2="84.18" stroke="#000" stroke-width="0.9"/><line x1="45.70" y1="79.14" x2="50.70" y2="79.14" stroke="#000" stroke-width="0.9"/><line x1="371.00" y1="79.14" x2="366.00" y2="79.14" stroke="#000" stroke-width="0.9"/><line x1="45.70" y1="75.23" x2="50.70" y2="75.23" stroke="#000" stroke-width="0.9"/><line x1="371.00" y1="75.23" x2="366.00" y2="75.23" stroke="#000" stroke-width="0.9"/><line x1="45.70" y1="72.03" x2="50.70" y2="72.03" stroke="#000" stroke-width="0.9"/><line x1="371.00" y1="72.03" x2="366.00" y2="72.03" stroke="#000" stroke-width="0.9"/><line x1="45.70" y1="69.32" x2="50.70" y2="69.32" stroke="#000" stroke-width="0.9"/><line x1="371.00" y1="69.32" x2="366.00" y2="69.32" stroke="#000" stroke-width="0.9"/><line x1="45.70" y1="66.98" x2="50.70" y2="66.98" stroke="#000" stroke-width="0.9"/><line x1="371.00" y1="66.98" x2="366.00" y2="66.98" stroke="#000" stroke-width="0.9"/><line x1="45.70" y1="64.92" x2="50.70" y2="64.92" stroke="#000" stroke-width="0.9"/><line x1="371.00" y1="64.92" x2="366.00" y2="64.92" stroke="#000" stroke-width="0.9"/><line x1="45.70" y1="63.07" x2="56.20" y2="63.07" stroke="#000" stroke-width="0.9"/><line x1="371.00" y1="63.07" x2="360.50" y2="63.07" stroke="#000" stroke-width="0.9"/><line x1="45.70" y1="50.91" x2="50.70" y2="50.91" stroke="#000" stroke-width="0.9"/><line x1="371.00" y1="50.91" x2="366.00" y2="50.91" stroke="#000" stroke-width="0.9"/><line x1="45.70" y1="43.80" x2="50.70" y2="43.80" stroke="#000" stroke-width="0.9"/><line x1="371.00" y1="43.80" x2="366.00" y2="43.80" stroke="#000" stroke-width="0.9"/><line x1="45.70" y1="38.76" x2="50.70" y2="38.76" stroke="#000" stroke-width="0.9"/><line x1="371.00" y1="38.76" x2="366.00" y2="38.76" stroke="#000" stroke-width="0.9"/><line x1="45.70" y1="34.85" x2="50.70" y2="34.85" stroke="#000" stroke-width="0.9"/><line x1="371.00" y1="34.85" x2="366.00" y2="34.85" stroke="#000" stroke-width="0.9"/><line x1="45.70" y1="31.65" x2="50.70" y2="31.65" stroke="#000" stroke-width="0.9"/><line x1="371.00" y1="31.65" x2="366.00" y2="31.65" stroke="#000" stroke-width="0.9"/><line x1="45.70" y1="28.94" x2="50.70" y2="28.94" stroke="#000" stroke-width="0.9"/><line x1="371.00" y1="28.94" x2="366.00" y2="28.94" stroke="#000" stroke-width="0.9"/><line x1="45.70" y1="26.60" x2="50.70" y2="26.60" stroke="#000" stroke-width="0.9"/><line x1="371.00" y1="26.60" x2="366.00" y2="26.60" stroke="#000" stroke-width="0.9"/><line x1="45.70" y1="24.54" x2="50.70" y2="24.54" stroke="#000" stroke-width="0.9"/><line x1="371.00" y1="24.54" x2="366.00" y2="24.54" stroke="#000" stroke-width="0.9"/><line x1="45.70" y1="22.69" x2="56.20" y2="22.69" stroke="#000" stroke-width="0.9"/><line x1="371.00" y1="22.69" x2="360.50" y2="22.69" stroke="#000" stroke-width="0.9"/><line x1="45.70" y1="458.11" x2="52.70" y2="458.11" stroke="#000" stroke-width="0.9"/><line x1="371.00" y1="458.11" x2="364.00" y2="458.11" stroke="#000" stroke-width="0.9"/><line x1="45.70" y1="442.19" x2="50.70" y2="442.19" stroke="#000" stroke-width="0.9"/><line x1="371.00" y1="442.19" x2="366.00" y2="442.19" stroke="#000" stroke-width="0.9"/><line x1="45.70" y1="428.74" x2="50.70" y2="428.74" stroke="#000" stroke-width="0.9"/><line x1="371.00" y1="428.74" x2="366.00" y2="428.74" stroke="#000" stroke-width="0.9"/><line x1="45.70" y1="417.08" x2="50.70" y2="417.08" stroke="#000" stroke-width="0.9"/><line x1="371.00" y1="417.08" x2="366.00" y2="417.08" stroke="#000" stroke-width="0.9"/><line x1="45.70" y1="406.80" x2="50.70" y2="406.80" stroke="#000" stroke-width="0.9"/><line x1="371.00" y1="406.80" x2="366.00" y2="406.80" stroke="#000" stroke-width="0.9"/><line x1="45.70" y1="397.60" x2="52.70" y2="397.60" stroke="#000" stroke-width="0.9"/><line x1="371.00" y1="397.60" x2="364.00" y2="397.60" stroke="#000" stroke-width="0.9"/><line x1="45.70" y1="389.28" x2="50.70" y2="389.28" stroke="#000" stroke-width="0.9"/><line x1="371.00" y1="389.28" x2="366.00" y2="389.28" stroke="#000" stroke-width="0.9"/><line x1="45.70" y1="381.68" x2="50.70" y2="381.68" stroke="#000" stroke-width="0.9"/><line x1="371.00" y1="381.68" x2="366.00" y2="381.68" stroke="#000" stroke-width="0.9"/><line x1="45.70" y1="374.70" x2="50.70" y2="374.70" stroke="#000" stroke-width="0.9"/><line x1="371.00" y1="374.70" x2="366.00" y2="374.70" stroke="#000" stroke-width="0.9"/><line x1="45.70" y1="368.23" x2="50.70" y2="368.23" stroke="#000" stroke-width="0.9"/><line x1="371.00" y1="368.23" x2="366.00" y2="368.23" stroke="#000" stroke-width="0.9"/><line x1="45.70" y1="362.21" x2="50.70" y2="362.21" stroke="#000" stroke-width="0.9"/><line x1="371.00" y1="362.21" x2="366.00" y2="362.21" stroke="#000" stroke-width="0.9"/><line x1="45.70" y1="356.57" x2="50.70" y2="356.57" stroke="#000" stroke-width="0.9"/><line x1="371.00" y1="356.57" x2="366.00" y2="356.57" stroke="#000" stroke-width="0.9"/><line x1="45.70" y1="351.28" x2="50.70" y2="351.28" stroke="#000" stroke-width="0.9"/><line x1="371.00" y1="351.28" x2="366.00" y2="351.28" stroke="#000" stroke-width="0.9"/><line x1="45.70" y1="346.29" x2="50.70" y2="346.29" stroke="#000" stroke-width="0.9"/><line x1="371.00" y1="346.29" x2="366.00" y2="346.29" stroke="#000" stroke-width="0.9"/><line x1="45.70" y1="341.57" x2="50.70" y2="341.57" stroke="#000" stroke-width="0.9"/><line x1="371.00" y1="341.57" x2="366.00" y2="341.57" stroke="#000" stroke-width="0.9"/><line x1="45.70" y1="337.09" x2="52.70" y2="337.09" stroke="#000" stroke-width="0.9"/><line x1="371.00" y1="337.09" x2="364.00" y2="337.09" stroke="#000" stroke-width="0.9"/><line x1="45.70" y1="332.83" x2="50.70" y2="332.83" stroke="#000" stroke-width="0.9"/><line x1="371.00" y1="332.83" x2="366.00" y2="332.83" stroke="#000" stroke-width="0.9"/><line x1="45.70" y1="328.77" x2="50.70" y2="328.77" stroke="#000" stroke-width="0.9"/><line x1="371.00" y1="328.77" x2="366.00" y2="328.77" stroke="#000" stroke-width="0.9"/><line x1="45.70" y1="324.89" x2="50.70" y2="324.89" stroke="#000" stroke-width="0.9"/><line x1="371.00" y1="324.89" x2="366.00" y2="324.89" stroke="#000" stroke-width="0.9"/><line x1="45.70" y1="321.18" x2="50.70" y2="321.18" stroke="#000" stroke-width="0.9"/><line x1="371.00" y1="321.18" x2="366.00" y2="321.18" stroke="#000" stroke-width="0.9"/></g>
<text x="52.1" y="13.7" font-size="12.1" font-family="Liberation Sans, sans-serif" fill="#000" text-anchor="start" >13000 GeV pp</text>
<text x="365.5" y="13.7" font-size="12.1" font-family="Liberation Sans, sans-serif" fill="#000" text-anchor="end" >Z+Jet</text>
<text x="87.7" y="41.8" font-size="12" font-family="Liberation Sans, sans-serif">Toward region, 60 &lt; p<tspan font-size="8.2" dx="-1.5" dy="-5.3">Z</tspan><tspan font-size="8.2" dx="-5.0" dy="12.2">T</tspan><tspan dy="-6.9" dx="-0.6"> &lt; 80 [GeV], high thrust</tspan></text>
<text x="39.8" y="26.79" font-size="11.5" font-family="Liberation Sans, sans-serif" text-anchor="end">10<tspan font-size="8" dy="-5">2</tspan></text>
<text x="39.6" y="67.17" font-size="11.5" font-family="Liberation Sans, sans-serif" fill="#000" text-anchor="end" >10</text>
<text x="39.6" y="107.55" font-size="11.5" font-family="Liberation Sans, sans-serif" fill="#000" text-anchor="end" >1</text>
<text x="39.8" y="147.93" font-size="11.5" font-family="Liberation Sans, sans-serif" text-anchor="end">10<tspan font-size="8" dy="-5">&#8722;1</tspan></text>
<text x="39.8" y="188.31" font-size="11.5" font-family="Liberation Sans, sans-serif" text-anchor="end">10<tspan font-size="8" dy="-5">&#8722;2</tspan></text>
<text x="39.8" y="228.69" font-size="11.5" font-family="Liberation Sans, sans-serif" text-anchor="end">10<tspan font-size="8" dy="-5">&#8722;3</tspan></text>
<text x="39.8" y="269.07" font-size="11.5" font-family="Liberation Sans, sans-serif" text-anchor="end">10<tspan font-size="8" dy="-5">&#8722;4</tspan></text>
<text x="39.8" y="309.45" font-size="11.5" font-family="Liberation Sans, sans-serif" text-anchor="end">10<tspan font-size="8" dy="-5">&#8722;5</tspan></text>
<text transform="translate(15.3,132.6) rotate(-90)" font-size="11.9" font-family="Liberation Sans, sans-serif">1/N<tspan font-size="7.5" dy="1.5">ev</tspan><tspan dy="-1.5"> dN</tspan><tspan font-size="7.5" dy="1.5">ev</tspan><tspan dy="-1.5">/dN</tspan><tspan font-size="7.5" dy="1.5">ch</tspan><tspan dy="-1.5">/dη dφ</tspan></text>
<text transform="translate(380.0,127.3) rotate(-90)" font-size="9.55" font-family="Liberation Sans, sans-serif" fill="#808080">Rivet 4.1.0, ≥ 3.7M events</text>
<text transform="translate(380.8,313) rotate(-90)" font-size="9.42" font-family="Liberation Sans, sans-serif" fill="#808080">mcplots.cern.ch [arXiv:2401.10621]</text>
<text x="163.4" y="302" font-size="7.95" font-family="Liberation Sans, sans-serif" fill="#999" text-anchor="start" >(ATLAS_2019_I1736531)</text>
<rect x="73.54" y="208.24" width="5.52" height="5.52" fill="#000"/>
<text x="94.2" y="214.3" font-size="9.4" font-family="Liberation Sans, sans-serif" fill="#000" text-anchor="start" >ATLAS</text>
<text x="94.2" y="227.3" font-size="9.4" font-family="Liberation Sans, sans-serif" fill="#000" text-anchor="start" >Herwig++ 2.7.1 default</text>
<text x="94.2" y="240.3" font-size="9.4" font-family="Liberation Sans, sans-serif" fill="#000" text-anchor="start" >Herwig 7.2.1 default</text>
<text x="94.2" y="253.3" font-size="9.4" font-family="Liberation Sans, sans-serif" fill="#000" text-anchor="start" >Pythia 8.315 default</text>
<text x="94.2" y="266.3" font-size="9.4" font-family="Liberation Sans, sans-serif" fill="#000" text-anchor="start" >Pythia 8.315 vincia-default</text>
<text x="94.2" y="279.3" font-size="9.4" font-family="Liberation Sans, sans-serif" fill="#000" text-anchor="start" >Sherpa 2.2.9 default</text>
<polyline points="64.10,224.00 88.50,224.00" fill="none" stroke="#b45a00" stroke-width="1.0" stroke-dasharray="2.8,1.8"/>
<circle cx="76.30" cy="224.00" r="2.55" fill="none" stroke="#b45a00" stroke-width="1.35"/><circle cx="76.30" cy="224.00" r="0.5" fill="#b45a00"/>
<polyline points="64.10,237.00 88.50,237.00" fill="none" stroke="#2f9000" stroke-width="1.0" stroke-dasharray="2.8,1.8"/>
<rect x="73.35" y="234.05" width="5.90" height="5.90" fill="#fff" fill-opacity="0" stroke="#2f9000" stroke-width="1.35"/><circle cx="76.30" cy="237.00" r="0.6" fill="#2f9000"/>
<polyline points="64.10,250.00 88.50,250.00" fill="none" stroke="#0000f5" stroke-width="1.0"/>
<path d="M73.40,251.90 L79.20,251.90 L76.30,246.70 Z" fill="#0000f5"/>
<polyline points="64.10,263.00 88.50,263.00" fill="none" stroke="#0096c0" stroke-width="1.0" stroke-dasharray="4.5,1.5,1.1,1.6"/>
<path d="M73.10,260.60 L79.50,260.60 L76.30,266.00 Z" fill="#0096c0"/>
<polyline points="64.10,276.00 88.50,276.00" fill="none" stroke="#ff0000" stroke-width="1.0" stroke-dasharray="1.2,0.8"/>
<path d="M76.30,273.07 L78.47,276.00 L76.30,278.93 L74.13,276.00 Z" fill="#ff0000"/>
<text x="37.8" y="341.19297087153984" font-size="11.5" font-family="Liberation Sans, sans-serif" fill="#000" text-anchor="end" >2</text>
<text x="374" y="340.89297087153983" font-size="10.5" font-family="Liberation Sans, sans-serif" fill="#000" text-anchor="start" >2</text>
<text x="37.8" y="401.70000000000005" font-size="11.5" font-family="Liberation Sans, sans-serif" fill="#000" text-anchor="end" >1</text>
<text x="374" y="401.40000000000003" font-size="10.5" font-family="Liberation Sans, sans-serif" fill="#000" text-anchor="start" >1</text>
<text x="37.8" y="462.20702912846025" font-size="11.5" font-family="Liberation Sans, sans-serif" fill="#000" text-anchor="end" >0.5</text>
<text x="374" y="461.90702912846024" font-size="10.5" font-family="Liberation Sans, sans-serif" fill="#000" text-anchor="start" >0.5</text>
<text transform="translate(18.4,427.2) rotate(-90)" font-size="9.0" font-family="Liberation Sans, sans-serif">Ratio to ATLAS</text>
<text x="55.45" y="489" font-size="11.5" font-family="Liberation Sans, sans-serif" fill="#000" text-anchor="middle" >0</text>
<text x="126.70" y="489" font-size="11.5" font-family="Liberation Sans, sans-serif" fill="#000" text-anchor="middle" >1</text>
<text x="197.95" y="489" font-size="11.5" font-family="Liberation Sans, sans-serif" fill="#000" text-anchor="middle" >2</text>
<text x="269.20" y="489" font-size="11.5" font-family="Liberation Sans, sans-serif" fill="#000" text-anchor="middle" >3</text>
<text x="340.45" y="489" font-size="11.5" font-family="Liberation Sans, sans-serif" fill="#000" text-anchor="middle" >4</text>
<text x="318.7" y="502.3" font-size="11.5" font-family="Liberation Sans, sans-serif">N<tspan font-size="8" dy="3.5">ch</tspan><tspan dy="-3.5">/dη dφ</tspan></text>
</svg>
</body></html>
